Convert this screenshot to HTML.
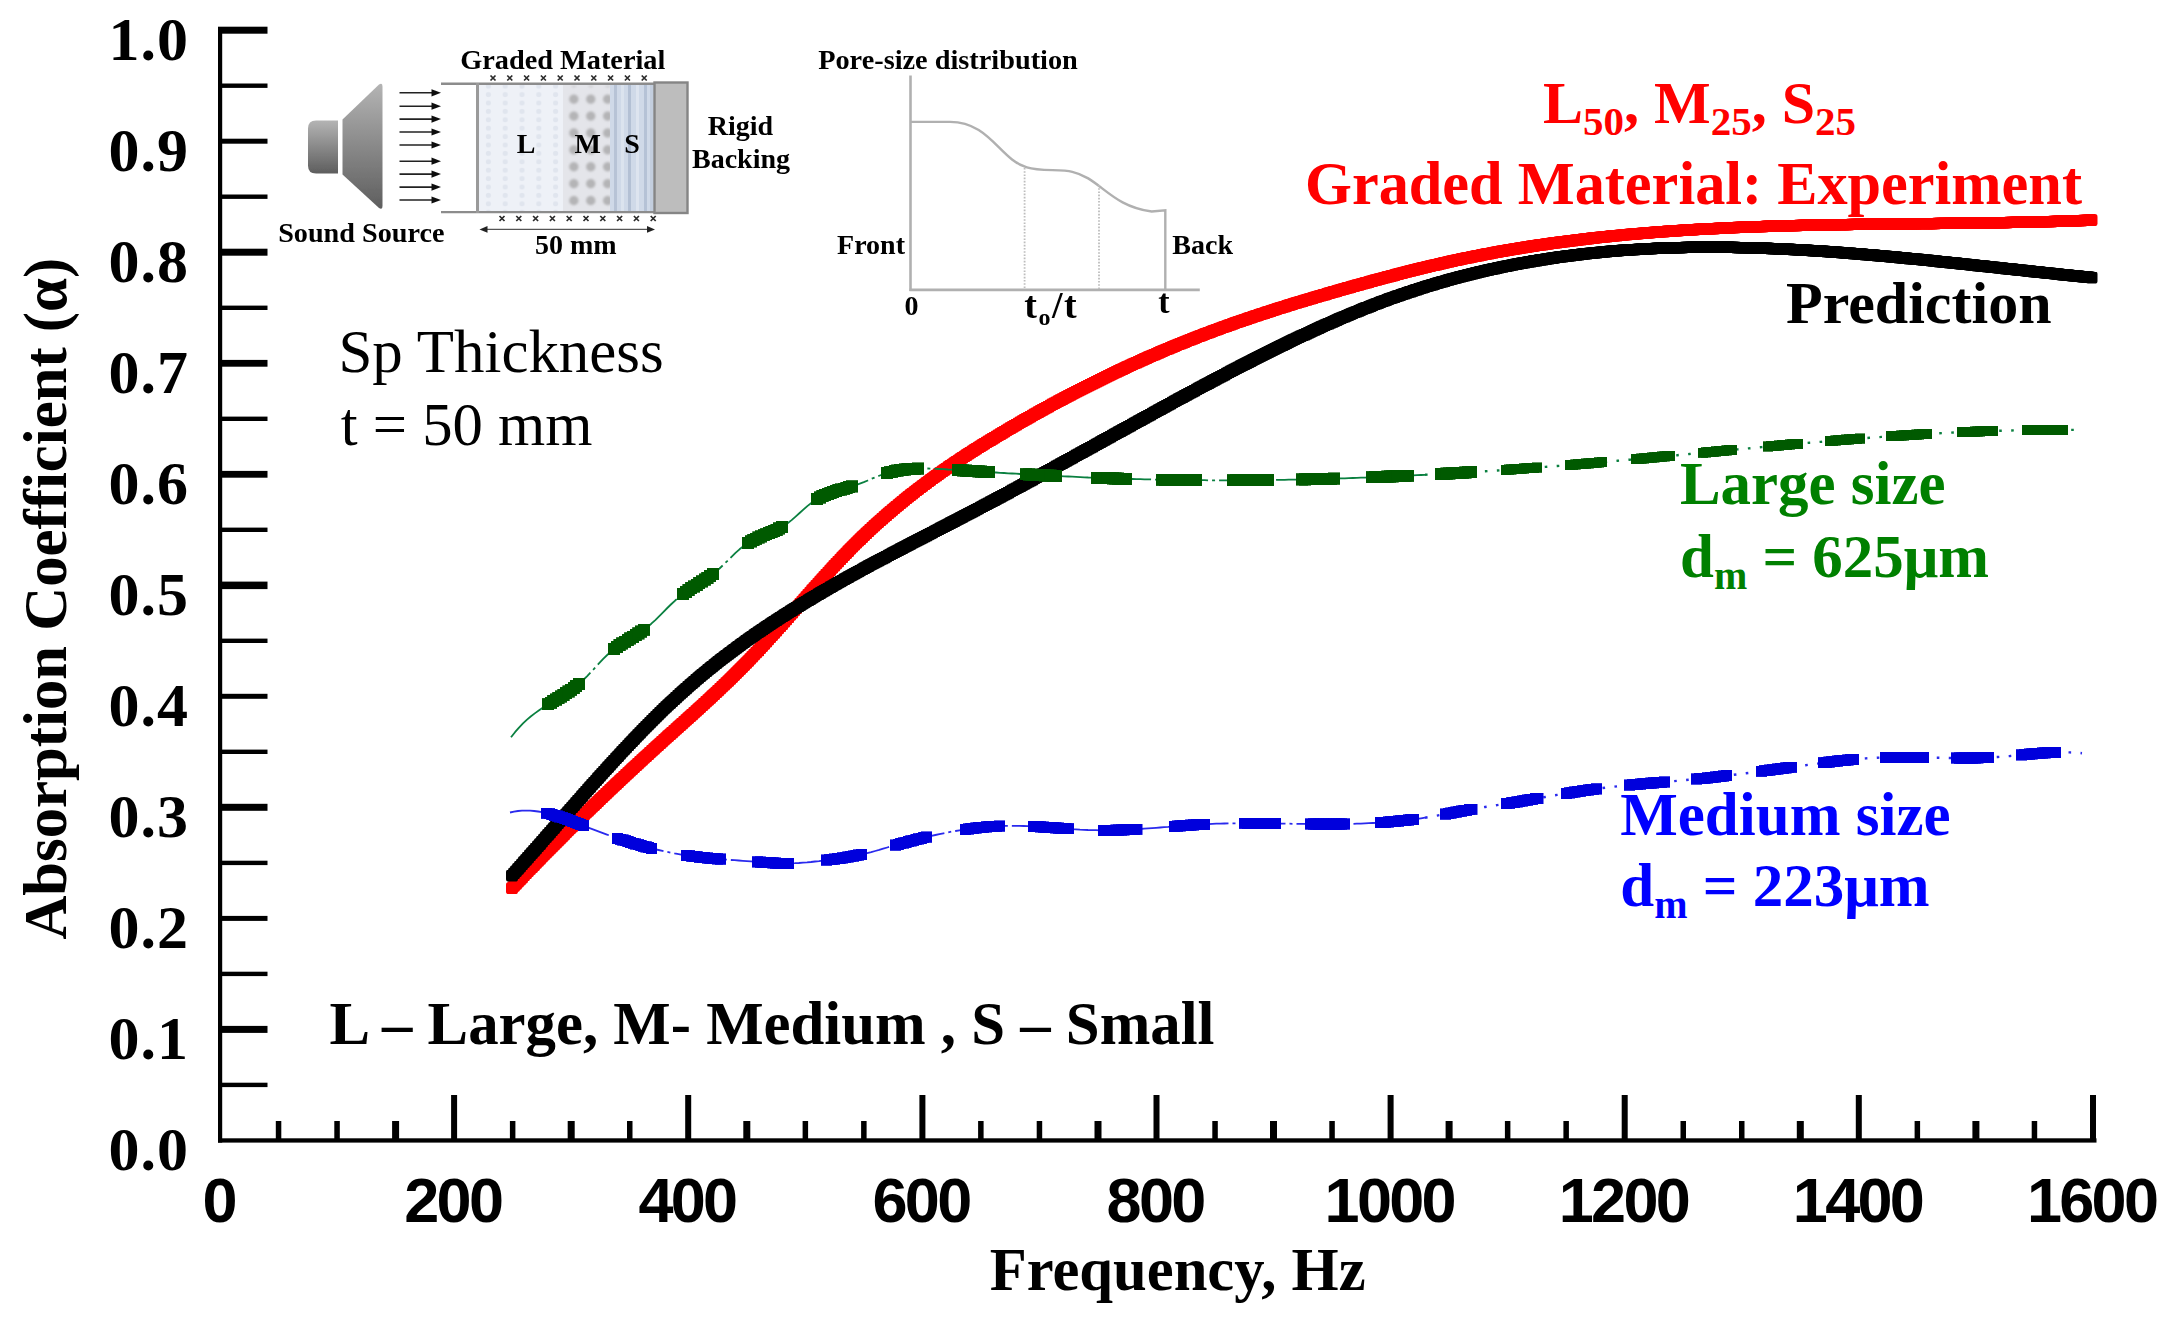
<!DOCTYPE html>
<html lang="en"><head><meta charset="utf-8"><title>Absorption coefficient of graded material</title>
<style>html,body{margin:0;padding:0;background:#fff;}svg{display:block;}text{font-family:"Liberation Serif","DejaVu Serif",serif;font-weight:bold;fill:#000;}.sans{font-family:"Liberation Sans","DejaVu Sans",sans-serif;font-weight:bold;}.reg{font-weight:normal;}</style></head><body>
<svg width="2168" height="1322" viewBox="0 0 2168 1322">
<defs><filter id="soft" x="-5%" y="-5%" width="110%" height="110%"><feGaussianBlur stdDeviation="0.7"/></filter><filter id="soft3" x="-5%" y="-5%" width="110%" height="110%"><feGaussianBlur stdDeviation="1.3"/></filter><filter id="soft2" x="-5%" y="-5%" width="110%" height="110%"><feGaussianBlur stdDeviation="0.45"/></filter><linearGradient id="spk" x1="0" y1="0" x2="0" y2="1"><stop offset="0" stop-color="#b4b4b4"/><stop offset="1" stop-color="#5e5e5e"/></linearGradient><pattern id="dotsL" x="480" y="82" width="16.8" height="8.4" patternUnits="userSpaceOnUse"><circle cx="8.4" cy="4.2" r="2.6" fill="#dde2ec"/></pattern><pattern id="dotsM" x="565.4" y="73.85" width="16.9" height="16.9" patternUnits="userSpaceOnUse"><circle cx="8.45" cy="8.45" r="4.7" fill="#b4b4b6"/></pattern><marker id="sqr" markerUnits="userSpaceOnUse" markerWidth="12" markerHeight="12" refX="6" refY="6"><rect width="12" height="12" rx="2.6" fill="#ff0000"/></marker><marker id="sqk" markerUnits="userSpaceOnUse" markerWidth="12" markerHeight="12" refX="6" refY="6"><rect width="12" height="12" rx="2.6" fill="#000000"/></marker><marker id="sqg" markerUnits="userSpaceOnUse" markerWidth="12.4" markerHeight="12.4" refX="6.2" refY="6.2"><rect width="12.4" height="12.4" fill="#005a00"/></marker><marker id="sqg2" markerUnits="userSpaceOnUse" markerWidth="10.4" markerHeight="10.4" refX="5.2" refY="5.2"><rect width="10.4" height="10.4" fill="#005a00"/></marker><marker id="sqb" markerUnits="userSpaceOnUse" markerWidth="11.4" markerHeight="11.4" refX="5.7" refY="5.7"><rect width="11.4" height="11.4" fill="#0000dc"/></marker></defs>
<rect x="0" y="0" width="2168" height="1322" fill="#ffffff"/>
<g fill="none" stroke-linejoin="round">
<path d="M512.0 888.0 L514.0 885.9 L516.0 883.8 L518.0 881.7 L520.0 879.6 L522.0 877.5 L524.0 875.4 L526.0 873.3 L528.0 871.2 L530.0 869.1 L532.0 867.0 L534.0 865.0 L536.0 862.9 L538.0 860.8 L540.0 858.8 L542.0 856.7 L544.0 854.7 L546.0 852.6 L548.0 850.6 L550.0 848.6 L552.0 846.5 L554.0 844.5 L556.0 842.5 L558.0 840.5 L560.0 838.5 L562.0 836.5 L564.0 834.5 L566.1 832.5 L568.1 830.5 L570.1 828.5 L572.1 826.6 L574.1 824.6 L576.1 822.6 L578.1 820.7 L580.1 818.7 L582.1 816.7 L584.1 814.8 L586.1 812.8 L588.1 810.9 L590.1 809.0 L592.1 807.0 L594.1 805.1 L596.1 803.2 L598.1 801.2 L600.1 799.3 L602.1 797.4 L604.1 795.5 L606.1 793.6 L608.1 791.7 L610.1 789.8 L612.1 787.9 L614.1 786.0 L616.1 784.1 L618.1 782.2 L620.1 780.3 L622.1 778.5 L624.1 776.6 L626.1 774.7 L628.1 772.9 L630.1 771.0 L632.1 769.1 L634.1 767.3 L636.1 765.4 L638.1 763.6 L640.1 761.7 L642.1 759.9 L644.1 758.0 L646.1 756.2 L648.1 754.4 L650.1 752.5 L652.1 750.7 L654.1 748.9 L656.1 747.0 L658.1 745.2 L660.1 743.4 L662.1 741.6 L664.1 739.8 L666.1 738.0 L668.1 736.1 L670.2 734.3 L672.2 732.5 L674.2 730.7 L676.2 728.9 L678.2 727.1 L680.2 725.3 L682.2 723.5 L684.2 721.7 L686.2 719.9 L688.2 718.1 L690.2 716.3 L692.2 714.5 L694.2 712.7 L696.2 710.9 L698.2 709.0 L700.2 707.2 L702.2 705.4 L704.2 703.5 L706.2 701.7 L708.2 699.9 L710.2 698.0 L712.2 696.1 L714.2 694.3 L716.2 692.4 L718.2 690.5 L720.2 688.6 L722.2 686.7 L724.2 684.8 L726.2 682.9 L728.2 681.0 L730.2 679.0 L732.2 677.1 L734.2 675.1 L736.2 673.1 L738.2 671.1 L740.2 669.1 L742.2 667.1 L744.2 665.1 L746.2 663.0 L748.2 661.0 L750.2 658.9 L752.2 656.8 L754.2 654.7 L756.2 652.6 L758.2 650.5 L760.2 648.3 L762.2 646.2 L764.2 644.0 L766.2 641.8 L768.2 639.6 L770.2 637.4 L772.2 635.2 L774.2 633.0 L776.3 630.8 L778.3 628.5 L780.3 626.3 L782.3 624.1 L784.3 621.8 L786.3 619.6 L788.3 617.3 L790.3 615.0 L792.3 612.8 L794.3 610.5 L796.3 608.2 L798.3 606.0 L800.3 603.7 L802.3 601.4 L804.3 599.2 L806.3 596.9 L808.3 594.7 L810.3 592.4 L812.3 590.1 L814.3 587.9 L816.3 585.7 L818.3 583.4 L820.3 581.2 L822.3 579.0 L824.3 576.8 L826.3 574.6 L828.3 572.4 L830.3 570.2 L832.3 568.0 L834.3 565.8 L836.3 563.7 L838.3 561.6 L840.3 559.4 L842.3 557.3 L844.3 555.2 L846.3 553.2 L848.3 551.1 L850.3 549.0 L852.3 547.0 L854.3 545.0 L856.3 543.0 L858.3 541.0 L860.3 539.1 L862.3 537.1 L864.3 535.2 L866.3 533.3 L868.3 531.4 L870.3 529.5 L872.3 527.7 L874.3 525.8 L876.3 524.0 L878.3 522.2 L880.3 520.4 L882.4 518.6 L884.4 516.8 L886.4 515.1 L888.4 513.3 L890.4 511.6 L892.4 509.9 L894.4 508.2 L896.4 506.5 L898.4 504.9 L900.4 503.2 L902.4 501.6 L904.4 499.9 L906.4 498.3 L908.4 496.7 L910.4 495.1 L912.4 493.6 L914.4 492.0 L916.4 490.4 L918.4 488.9 L920.4 487.4 L922.4 485.9 L924.4 484.4 L926.4 482.9 L928.4 481.4 L930.4 479.9 L932.4 478.4 L934.4 477.0 L936.4 475.6 L938.4 474.1 L940.4 472.7 L942.4 471.3 L944.4 469.9 L946.4 468.5 L948.4 467.1 L950.4 465.7 L952.4 464.4 L954.4 463.0 L956.4 461.7 L958.4 460.4 L960.4 459.0 L962.4 457.7 L964.4 456.4 L966.4 455.1 L968.4 453.8 L970.4 452.5 L972.4 451.2 L974.4 449.9 L976.4 448.7 L978.4 447.4 L980.4 446.2 L982.4 444.9 L984.4 443.7 L986.5 442.4 L988.5 441.2 L990.5 440.0 L992.5 438.8 L994.5 437.6 L996.5 436.4 L998.5 435.2 L1000.5 434.0 L1002.5 432.8 L1004.5 431.6 L1006.5 430.4 L1008.5 429.2 L1010.5 428.0 L1012.5 426.9 L1014.5 425.7 L1016.5 424.5 L1018.5 423.4 L1020.5 422.2 L1022.5 421.1 L1024.5 419.9 L1026.5 418.8 L1028.5 417.7 L1030.5 416.5 L1032.5 415.4 L1034.5 414.3 L1036.5 413.2 L1038.5 412.0 L1040.5 410.9 L1042.5 409.8 L1044.5 408.7 L1046.5 407.6 L1048.5 406.5 L1050.5 405.4 L1052.5 404.3 L1054.5 403.3 L1056.5 402.2 L1058.5 401.1 L1060.5 400.0 L1062.5 399.0 L1064.5 397.9 L1066.5 396.9 L1068.5 395.8 L1070.5 394.8 L1072.5 393.7 L1074.5 392.7 L1076.5 391.6 L1078.5 390.6 L1080.5 389.6 L1082.5 388.6 L1084.5 387.5 L1086.5 386.5 L1088.5 385.5 L1090.5 384.5 L1092.6 383.5 L1094.6 382.5 L1096.6 381.5 L1098.6 380.5 L1100.6 379.5 L1102.6 378.5 L1104.6 377.6 L1106.6 376.6 L1108.6 375.6 L1110.6 374.7 L1112.6 373.7 L1114.6 372.7 L1116.6 371.8 L1118.6 370.8 L1120.6 369.9 L1122.6 369.0 L1124.6 368.0 L1126.6 367.1 L1128.6 366.2 L1130.6 365.3 L1132.6 364.3 L1134.6 363.4 L1136.6 362.5 L1138.6 361.6 L1140.6 360.7 L1142.6 359.8 L1144.6 358.9 L1146.6 358.0 L1148.6 357.1 L1150.6 356.3 L1152.6 355.4 L1154.6 354.5 L1156.6 353.7 L1158.6 352.8 L1160.6 351.9 L1162.6 351.1 L1164.6 350.2 L1166.6 349.4 L1168.6 348.5 L1170.6 347.7 L1172.6 346.9 L1174.6 346.0 L1176.6 345.2 L1178.6 344.4 L1180.6 343.6 L1182.6 342.8 L1184.6 342.0 L1186.6 341.2 L1188.6 340.4 L1190.6 339.6 L1192.6 338.8 L1194.6 338.0 L1196.7 337.2 L1198.7 336.4 L1200.7 335.7 L1202.7 334.9 L1204.7 334.1 L1206.7 333.4 L1208.7 332.6 L1210.7 331.9 L1212.7 331.1 L1214.7 330.4 L1216.7 329.6 L1218.7 328.9 L1220.7 328.2 L1222.7 327.4 L1224.7 326.7 L1226.7 326.0 L1228.7 325.3 L1230.7 324.6 L1232.7 323.8 L1234.7 323.1 L1236.7 322.4 L1238.7 321.7 L1240.7 321.0 L1242.7 320.4 L1244.7 319.7 L1246.7 319.0 L1248.7 318.3 L1250.7 317.6 L1252.7 316.9 L1254.7 316.3 L1256.7 315.6 L1258.7 314.9 L1260.7 314.3 L1262.7 313.6 L1264.7 313.0 L1266.7 312.3 L1268.7 311.7 L1270.7 311.0 L1272.7 310.4 L1274.7 309.7 L1276.7 309.1 L1278.7 308.4 L1280.7 307.8 L1282.7 307.2 L1284.7 306.6 L1286.7 305.9 L1288.7 305.3 L1290.7 304.7 L1292.7 304.1 L1294.7 303.4 L1296.7 302.8 L1298.7 302.2 L1300.7 301.6 L1302.8 301.0 L1304.8 300.4 L1306.8 299.8 L1308.8 299.2 L1310.8 298.6 L1312.8 298.0 L1314.8 297.4 L1316.8 296.8 L1318.8 296.2 L1320.8 295.6 L1322.8 295.1 L1324.8 294.5 L1326.8 293.9 L1328.8 293.3 L1330.8 292.7 L1332.8 292.1 L1334.8 291.6 L1336.8 291.0 L1338.8 290.4 L1340.8 289.8 L1342.8 289.3 L1344.8 288.7 L1346.8 288.1 L1348.8 287.6 L1350.8 287.0 L1352.8 286.4 L1354.8 285.9 L1356.8 285.3 L1358.8 284.8 L1360.8 284.2 L1362.8 283.6 L1364.8 283.1 L1366.8 282.5 L1368.8 282.0 L1370.8 281.4 L1372.8 280.9 L1374.8 280.3 L1376.8 279.8 L1378.8 279.2 L1380.8 278.7 L1382.8 278.2 L1384.8 277.6 L1386.8 277.1 L1388.8 276.5 L1390.8 276.0 L1392.8 275.5 L1394.8 275.0 L1396.8 274.4 L1398.8 273.9 L1400.8 273.4 L1402.8 272.9 L1404.8 272.4 L1406.8 271.8 L1408.9 271.3 L1410.9 270.8 L1412.9 270.3 L1414.9 269.8 L1416.9 269.3 L1418.9 268.8 L1420.9 268.3 L1422.9 267.8 L1424.9 267.4 L1426.9 266.9 L1428.9 266.4 L1430.9 265.9 L1432.9 265.4 L1434.9 265.0 L1436.9 264.5 L1438.9 264.0 L1440.9 263.6 L1442.9 263.1 L1444.9 262.7 L1446.9 262.2 L1448.9 261.8 L1450.9 261.3 L1452.9 260.9 L1454.9 260.4 L1456.9 260.0 L1458.9 259.6 L1460.9 259.1 L1462.9 258.7 L1464.9 258.3 L1466.9 257.9 L1468.9 257.5 L1470.9 257.1 L1472.9 256.7 L1474.9 256.3 L1476.9 255.9 L1478.9 255.5 L1480.9 255.1 L1482.9 254.7 L1484.9 254.3 L1486.9 253.9 L1488.9 253.5 L1490.9 253.2 L1492.9 252.8 L1494.9 252.4 L1496.9 252.1 L1498.9 251.7 L1500.9 251.3 L1502.9 251.0 L1504.9 250.6 L1506.9 250.3 L1508.9 249.9 L1510.9 249.6 L1513.0 249.2 L1515.0 248.9 L1517.0 248.6 L1519.0 248.2 L1521.0 247.9 L1523.0 247.6 L1525.0 247.3 L1527.0 247.0 L1529.0 246.6 L1531.0 246.3 L1533.0 246.0 L1535.0 245.7 L1537.0 245.4 L1539.0 245.1 L1541.0 244.8 L1543.0 244.5 L1545.0 244.2 L1547.0 243.9 L1549.0 243.7 L1551.0 243.4 L1553.0 243.1 L1555.0 242.8 L1557.0 242.5 L1559.0 242.3 L1561.0 242.0 L1563.0 241.7 L1565.0 241.5 L1567.0 241.2 L1569.0 241.0 L1571.0 240.7 L1573.0 240.5 L1575.0 240.2 L1577.0 240.0 L1579.0 239.7 L1581.0 239.5 L1583.0 239.2 L1585.0 239.0 L1587.0 238.8 L1589.0 238.5 L1591.0 238.3 L1593.0 238.1 L1595.0 237.9 L1597.0 237.6 L1599.0 237.4 L1601.0 237.2 L1603.0 237.0 L1605.0 236.8 L1607.0 236.6 L1609.0 236.4 L1611.0 236.1 L1613.0 235.9 L1615.0 235.7 L1617.0 235.6 L1619.1 235.4 L1621.1 235.2 L1623.1 235.0 L1625.1 234.8 L1627.1 234.6 L1629.1 234.4 L1631.1 234.2 L1633.1 234.1 L1635.1 233.9 L1637.1 233.7 L1639.1 233.5 L1641.1 233.4 L1643.1 233.2 L1645.1 233.0 L1647.1 232.9 L1649.1 232.7 L1651.1 232.5 L1653.1 232.4 L1655.1 232.2 L1657.1 232.1 L1659.1 231.9 L1661.1 231.8 L1663.1 231.6 L1665.1 231.5 L1667.1 231.3 L1669.1 231.2 L1671.1 231.1 L1673.1 230.9 L1675.1 230.8 L1677.1 230.7 L1679.1 230.5 L1681.1 230.4 L1683.1 230.3 L1685.1 230.1 L1687.1 230.0 L1689.1 229.9 L1691.1 229.8 L1693.1 229.7 L1695.1 229.5 L1697.1 229.4 L1699.1 229.3 L1701.1 229.2 L1703.1 229.1 L1705.1 229.0 L1707.1 228.9 L1709.1 228.8 L1711.1 228.7 L1713.1 228.6 L1715.1 228.5 L1717.1 228.4 L1719.1 228.3 L1721.1 228.2 L1723.2 228.1 L1725.2 228.0 L1727.2 227.9 L1729.2 227.8 L1731.2 227.7 L1733.2 227.6 L1735.2 227.5 L1737.2 227.4 L1739.2 227.4 L1741.2 227.3 L1743.2 227.2 L1745.2 227.1 L1747.2 227.0 L1749.2 227.0 L1751.2 226.9 L1753.2 226.8 L1755.2 226.7 L1757.2 226.7 L1759.2 226.6 L1761.2 226.5 L1763.2 226.5 L1765.2 226.4 L1767.2 226.3 L1769.2 226.3 L1771.2 226.2 L1773.2 226.1 L1775.2 226.1 L1777.2 226.0 L1779.2 226.0 L1781.2 225.9 L1783.2 225.8 L1785.2 225.8 L1787.2 225.7 L1789.2 225.7 L1791.2 225.6 L1793.2 225.6 L1795.2 225.5 L1797.2 225.5 L1799.2 225.4 L1801.2 225.4 L1803.2 225.3 L1805.2 225.3 L1807.2 225.2 L1809.2 225.2 L1811.2 225.2 L1813.2 225.1 L1815.2 225.1 L1817.2 225.0 L1819.2 225.0 L1821.2 225.0 L1823.2 224.9 L1825.2 224.9 L1827.2 224.8 L1829.3 224.8 L1831.3 224.8 L1833.3 224.7 L1835.3 224.7 L1837.3 224.7 L1839.3 224.6 L1841.3 224.6 L1843.3 224.6 L1845.3 224.5 L1847.3 224.5 L1849.3 224.5 L1851.3 224.4 L1853.3 224.4 L1855.3 224.4 L1857.3 224.4 L1859.3 224.3 L1861.3 224.3 L1863.3 224.3 L1865.3 224.3 L1867.3 224.2 L1869.3 224.2 L1871.3 224.2 L1873.3 224.1 L1875.3 224.1 L1877.3 224.1 L1879.3 224.1 L1881.3 224.1 L1883.3 224.0 L1885.3 224.0 L1887.3 224.0 L1889.3 224.0 L1891.3 223.9 L1893.3 223.9 L1895.3 223.9 L1897.3 223.9 L1899.3 223.9 L1901.3 223.8 L1903.3 223.8 L1905.3 223.8 L1907.3 223.8 L1909.3 223.7 L1911.3 223.7 L1913.3 223.7 L1915.3 223.7 L1917.3 223.7 L1919.3 223.6 L1921.3 223.6 L1923.3 223.6 L1925.3 223.6 L1927.3 223.6 L1929.3 223.5 L1931.3 223.5 L1933.3 223.5 L1935.4 223.5 L1937.4 223.4 L1939.4 223.4 L1941.4 223.4 L1943.4 223.4 L1945.4 223.4 L1947.4 223.3 L1949.4 223.3 L1951.4 223.3 L1953.4 223.3 L1955.4 223.2 L1957.4 223.2 L1959.4 223.2 L1961.4 223.2 L1963.4 223.1 L1965.4 223.1 L1967.4 223.1 L1969.4 223.1 L1971.4 223.0 L1973.4 223.0 L1975.4 223.0 L1977.4 223.0 L1979.4 222.9 L1981.4 222.9 L1983.4 222.9 L1985.4 222.8 L1987.4 222.8 L1989.4 222.8 L1991.4 222.8 L1993.4 222.7 L1995.4 222.7 L1997.4 222.7 L1999.4 222.6 L2001.4 222.6 L2003.4 222.6 L2005.4 222.5 L2007.4 222.5 L2009.4 222.4 L2011.4 222.4 L2013.4 222.4 L2015.4 222.3 L2017.4 222.3 L2019.4 222.2 L2021.4 222.2 L2023.4 222.2 L2025.4 222.1 L2027.4 222.1 L2029.4 222.0 L2031.4 222.0 L2033.4 221.9 L2035.4 221.9 L2037.4 221.8 L2039.5 221.8 L2041.5 221.7 L2043.5 221.7 L2045.5 221.6 L2047.5 221.6 L2049.5 221.5 L2051.5 221.5 L2053.5 221.4 L2055.5 221.4 L2057.5 221.3 L2059.5 221.2 L2061.5 221.2 L2063.5 221.1 L2065.5 221.1 L2067.5 221.0 L2069.5 220.9 L2071.5 220.9 L2073.5 220.8 L2075.5 220.7 L2077.5 220.7 L2079.5 220.6 L2081.5 220.5 L2083.5 220.4 L2085.5 220.4 L2087.5 220.3 L2089.5 220.2 L2091.5 220.1" stroke="#ff0000" stroke-width="8.5" stroke-linecap="butt" marker-start="url(#sqr)" marker-mid="url(#sqr)" marker-end="url(#sqr)"/>
<path d="M512.0 875.6 L514.0 873.4 L516.0 871.2 L518.0 868.9 L520.0 866.7 L522.0 864.4 L524.0 862.1 L526.0 859.9 L528.0 857.6 L530.0 855.3 L532.0 853.1 L534.0 850.8 L536.0 848.5 L538.0 846.3 L540.0 844.0 L542.0 841.7 L544.0 839.4 L546.0 837.1 L548.0 834.8 L550.0 832.6 L552.0 830.3 L554.0 828.0 L556.0 825.7 L558.0 823.4 L560.0 821.1 L562.0 818.8 L564.0 816.6 L566.1 814.3 L568.1 812.0 L570.1 809.7 L572.1 807.4 L574.1 805.2 L576.1 802.9 L578.1 800.6 L580.1 798.4 L582.1 796.1 L584.1 793.8 L586.1 791.6 L588.1 789.3 L590.1 787.1 L592.1 784.8 L594.1 782.6 L596.1 780.4 L598.1 778.1 L600.1 775.9 L602.1 773.7 L604.1 771.5 L606.1 769.3 L608.1 767.1 L610.1 764.9 L612.1 762.7 L614.1 760.5 L616.1 758.3 L618.1 756.2 L620.1 754.0 L622.1 751.8 L624.1 749.7 L626.1 747.6 L628.1 745.4 L630.1 743.3 L632.1 741.2 L634.1 739.1 L636.1 737.0 L638.1 734.9 L640.1 732.9 L642.1 730.8 L644.1 728.7 L646.1 726.7 L648.1 724.7 L650.1 722.7 L652.1 720.6 L654.1 718.6 L656.1 716.7 L658.1 714.7 L660.1 712.7 L662.1 710.8 L664.1 708.8 L666.1 706.9 L668.1 705.0 L670.2 703.1 L672.2 701.2 L674.2 699.4 L676.2 697.5 L678.2 695.7 L680.2 693.8 L682.2 692.0 L684.2 690.2 L686.2 688.5 L688.2 686.7 L690.2 684.9 L692.2 683.2 L694.2 681.5 L696.2 679.7 L698.2 678.0 L700.2 676.3 L702.2 674.7 L704.2 673.0 L706.2 671.4 L708.2 669.7 L710.2 668.1 L712.2 666.5 L714.2 664.9 L716.2 663.3 L718.2 661.7 L720.2 660.1 L722.2 658.6 L724.2 657.0 L726.2 655.5 L728.2 654.0 L730.2 652.5 L732.2 651.0 L734.2 649.5 L736.2 648.0 L738.2 646.5 L740.2 645.1 L742.2 643.6 L744.2 642.2 L746.2 640.7 L748.2 639.3 L750.2 637.9 L752.2 636.5 L754.2 635.1 L756.2 633.7 L758.2 632.3 L760.2 631.0 L762.2 629.6 L764.2 628.3 L766.2 626.9 L768.2 625.6 L770.2 624.2 L772.2 622.9 L774.2 621.6 L776.3 620.3 L778.3 619.0 L780.3 617.7 L782.3 616.4 L784.3 615.1 L786.3 613.9 L788.3 612.6 L790.3 611.3 L792.3 610.1 L794.3 608.8 L796.3 607.6 L798.3 606.4 L800.3 605.1 L802.3 603.9 L804.3 602.7 L806.3 601.5 L808.3 600.3 L810.3 599.1 L812.3 597.9 L814.3 596.7 L816.3 595.5 L818.3 594.3 L820.3 593.1 L822.3 591.9 L824.3 590.8 L826.3 589.6 L828.3 588.5 L830.3 587.3 L832.3 586.2 L834.3 585.0 L836.3 583.9 L838.3 582.7 L840.3 581.6 L842.3 580.5 L844.3 579.3 L846.3 578.2 L848.3 577.1 L850.3 576.0 L852.3 574.9 L854.3 573.8 L856.3 572.7 L858.3 571.6 L860.3 570.5 L862.3 569.4 L864.3 568.3 L866.3 567.2 L868.3 566.1 L870.3 565.0 L872.3 564.0 L874.3 562.9 L876.3 561.8 L878.3 560.8 L880.3 559.7 L882.4 558.6 L884.4 557.6 L886.4 556.5 L888.4 555.4 L890.4 554.4 L892.4 553.3 L894.4 552.3 L896.4 551.2 L898.4 550.2 L900.4 549.1 L902.4 548.1 L904.4 547.0 L906.4 546.0 L908.4 544.9 L910.4 543.9 L912.4 542.8 L914.4 541.8 L916.4 540.8 L918.4 539.7 L920.4 538.7 L922.4 537.7 L924.4 536.6 L926.4 535.6 L928.4 534.5 L930.4 533.5 L932.4 532.5 L934.4 531.4 L936.4 530.4 L938.4 529.4 L940.4 528.3 L942.4 527.3 L944.4 526.3 L946.4 525.2 L948.4 524.2 L950.4 523.1 L952.4 522.1 L954.4 521.1 L956.4 520.0 L958.4 519.0 L960.4 517.9 L962.4 516.9 L964.4 515.8 L966.4 514.8 L968.4 513.7 L970.4 512.7 L972.4 511.7 L974.4 510.6 L976.4 509.5 L978.4 508.5 L980.4 507.4 L982.4 506.4 L984.4 505.3 L986.5 504.3 L988.5 503.2 L990.5 502.1 L992.5 501.1 L994.5 500.0 L996.5 498.9 L998.5 497.8 L1000.5 496.8 L1002.5 495.7 L1004.5 494.6 L1006.5 493.6 L1008.5 492.5 L1010.5 491.4 L1012.5 490.3 L1014.5 489.2 L1016.5 488.2 L1018.5 487.1 L1020.5 486.0 L1022.5 484.9 L1024.5 483.8 L1026.5 482.7 L1028.5 481.6 L1030.5 480.6 L1032.5 479.5 L1034.5 478.4 L1036.5 477.3 L1038.5 476.2 L1040.5 475.1 L1042.5 474.0 L1044.5 472.9 L1046.5 471.8 L1048.5 470.7 L1050.5 469.6 L1052.5 468.5 L1054.5 467.4 L1056.5 466.3 L1058.5 465.2 L1060.5 464.1 L1062.5 463.0 L1064.5 461.9 L1066.5 460.8 L1068.5 459.7 L1070.5 458.6 L1072.5 457.5 L1074.5 456.4 L1076.5 455.3 L1078.5 454.2 L1080.5 453.1 L1082.5 452.0 L1084.5 450.9 L1086.5 449.8 L1088.5 448.7 L1090.5 447.6 L1092.6 446.5 L1094.6 445.4 L1096.6 444.3 L1098.6 443.2 L1100.6 442.0 L1102.6 440.9 L1104.6 439.8 L1106.6 438.7 L1108.6 437.6 L1110.6 436.5 L1112.6 435.4 L1114.6 434.3 L1116.6 433.2 L1118.6 432.1 L1120.6 431.0 L1122.6 429.9 L1124.6 428.8 L1126.6 427.7 L1128.6 426.6 L1130.6 425.5 L1132.6 424.4 L1134.6 423.3 L1136.6 422.2 L1138.6 421.1 L1140.6 420.0 L1142.6 418.9 L1144.6 417.8 L1146.6 416.6 L1148.6 415.6 L1150.6 414.5 L1152.6 413.4 L1154.6 412.3 L1156.6 411.2 L1158.6 410.1 L1160.6 409.0 L1162.6 407.9 L1164.6 406.8 L1166.6 405.7 L1168.6 404.6 L1170.6 403.5 L1172.6 402.4 L1174.6 401.3 L1176.6 400.2 L1178.6 399.1 L1180.6 398.1 L1182.6 397.0 L1184.6 395.9 L1186.6 394.8 L1188.6 393.7 L1190.6 392.6 L1192.6 391.6 L1194.6 390.5 L1196.7 389.4 L1198.7 388.3 L1200.7 387.2 L1202.7 386.2 L1204.7 385.1 L1206.7 384.0 L1208.7 383.0 L1210.7 381.9 L1212.7 380.8 L1214.7 379.8 L1216.7 378.7 L1218.7 377.6 L1220.7 376.6 L1222.7 375.5 L1224.7 374.5 L1226.7 373.4 L1228.7 372.4 L1230.7 371.3 L1232.7 370.3 L1234.7 369.2 L1236.7 368.2 L1238.7 367.2 L1240.7 366.1 L1242.7 365.1 L1244.7 364.0 L1246.7 363.0 L1248.7 362.0 L1250.7 361.0 L1252.7 359.9 L1254.7 358.9 L1256.7 357.9 L1258.7 356.9 L1260.7 355.9 L1262.7 354.9 L1264.7 353.9 L1266.7 352.9 L1268.7 351.9 L1270.7 350.9 L1272.7 349.9 L1274.7 348.9 L1276.7 347.9 L1278.7 346.9 L1280.7 345.9 L1282.7 345.0 L1284.7 344.0 L1286.7 343.0 L1288.7 342.1 L1290.7 341.1 L1292.7 340.1 L1294.7 339.2 L1296.7 338.2 L1298.7 337.3 L1300.7 336.3 L1302.8 335.4 L1304.8 334.5 L1306.8 333.5 L1308.8 332.6 L1310.8 331.7 L1312.8 330.7 L1314.8 329.8 L1316.8 328.9 L1318.8 328.0 L1320.8 327.1 L1322.8 326.2 L1324.8 325.3 L1326.8 324.4 L1328.8 323.5 L1330.8 322.6 L1332.8 321.8 L1334.8 320.9 L1336.8 320.0 L1338.8 319.1 L1340.8 318.3 L1342.8 317.4 L1344.8 316.6 L1346.8 315.7 L1348.8 314.9 L1350.8 314.1 L1352.8 313.2 L1354.8 312.4 L1356.8 311.6 L1358.8 310.8 L1360.8 309.9 L1362.8 309.1 L1364.8 308.3 L1366.8 307.5 L1368.8 306.8 L1370.8 306.0 L1372.8 305.2 L1374.8 304.4 L1376.8 303.6 L1378.8 302.9 L1380.8 302.1 L1382.8 301.4 L1384.8 300.6 L1386.8 299.9 L1388.8 299.1 L1390.8 298.4 L1392.8 297.7 L1394.8 297.0 L1396.8 296.3 L1398.8 295.6 L1400.8 294.9 L1402.8 294.2 L1404.8 293.5 L1406.8 292.8 L1408.9 292.1 L1410.9 291.5 L1412.9 290.8 L1414.9 290.1 L1416.9 289.5 L1418.9 288.8 L1420.9 288.2 L1422.9 287.6 L1424.9 286.9 L1426.9 286.3 L1428.9 285.7 L1430.9 285.1 L1432.9 284.5 L1434.9 283.9 L1436.9 283.3 L1438.9 282.7 L1440.9 282.1 L1442.9 281.5 L1444.9 281.0 L1446.9 280.4 L1448.9 279.8 L1450.9 279.3 L1452.9 278.7 L1454.9 278.2 L1456.9 277.7 L1458.9 277.1 L1460.9 276.6 L1462.9 276.1 L1464.9 275.6 L1466.9 275.1 L1468.9 274.6 L1470.9 274.1 L1472.9 273.6 L1474.9 273.1 L1476.9 272.6 L1478.9 272.1 L1480.9 271.6 L1482.9 271.2 L1484.9 270.7 L1486.9 270.3 L1488.9 269.8 L1490.9 269.4 L1492.9 268.9 L1494.9 268.5 L1496.9 268.0 L1498.9 267.6 L1500.9 267.2 L1502.9 266.8 L1504.9 266.4 L1506.9 266.0 L1508.9 265.6 L1510.9 265.2 L1513.0 264.8 L1515.0 264.4 L1517.0 264.0 L1519.0 263.6 L1521.0 263.3 L1523.0 262.9 L1525.0 262.5 L1527.0 262.2 L1529.0 261.8 L1531.0 261.5 L1533.0 261.1 L1535.0 260.8 L1537.0 260.5 L1539.0 260.1 L1541.0 259.8 L1543.0 259.5 L1545.0 259.2 L1547.0 258.9 L1549.0 258.6 L1551.0 258.3 L1553.0 258.0 L1555.0 257.7 L1557.0 257.4 L1559.0 257.1 L1561.0 256.8 L1563.0 256.5 L1565.0 256.3 L1567.0 256.0 L1569.0 255.8 L1571.0 255.5 L1573.0 255.2 L1575.0 255.0 L1577.0 254.8 L1579.0 254.5 L1581.0 254.3 L1583.0 254.0 L1585.0 253.8 L1587.0 253.6 L1589.0 253.4 L1591.0 253.2 L1593.0 253.0 L1595.0 252.8 L1597.0 252.6 L1599.0 252.4 L1601.0 252.2 L1603.0 252.0 L1605.0 251.8 L1607.0 251.6 L1609.0 251.4 L1611.0 251.3 L1613.0 251.1 L1615.0 250.9 L1617.0 250.8 L1619.1 250.6 L1621.1 250.4 L1623.1 250.3 L1625.1 250.2 L1627.1 250.0 L1629.1 249.9 L1631.1 249.7 L1633.1 249.6 L1635.1 249.5 L1637.1 249.4 L1639.1 249.2 L1641.1 249.1 L1643.1 249.0 L1645.1 248.9 L1647.1 248.8 L1649.1 248.7 L1651.1 248.6 L1653.1 248.5 L1655.1 248.4 L1657.1 248.3 L1659.1 248.2 L1661.1 248.2 L1663.1 248.1 L1665.1 248.0 L1667.1 247.9 L1669.1 247.9 L1671.1 247.8 L1673.1 247.7 L1675.1 247.7 L1677.1 247.6 L1679.1 247.6 L1681.1 247.5 L1683.1 247.5 L1685.1 247.4 L1687.1 247.4 L1689.1 247.4 L1691.1 247.3 L1693.1 247.3 L1695.1 247.3 L1697.1 247.3 L1699.1 247.3 L1701.1 247.2 L1703.1 247.2 L1705.1 247.2 L1707.1 247.2 L1709.1 247.2 L1711.1 247.2 L1713.1 247.2 L1715.1 247.2 L1717.1 247.2 L1719.1 247.2 L1721.1 247.2 L1723.2 247.3 L1725.2 247.3 L1727.2 247.3 L1729.2 247.3 L1731.2 247.4 L1733.2 247.4 L1735.2 247.4 L1737.2 247.5 L1739.2 247.5 L1741.2 247.5 L1743.2 247.6 L1745.2 247.6 L1747.2 247.7 L1749.2 247.7 L1751.2 247.8 L1753.2 247.8 L1755.2 247.9 L1757.2 248.0 L1759.2 248.0 L1761.2 248.1 L1763.2 248.2 L1765.2 248.2 L1767.2 248.3 L1769.2 248.4 L1771.2 248.5 L1773.2 248.5 L1775.2 248.6 L1777.2 248.7 L1779.2 248.8 L1781.2 248.9 L1783.2 249.0 L1785.2 249.1 L1787.2 249.2 L1789.2 249.3 L1791.2 249.4 L1793.2 249.5 L1795.2 249.6 L1797.2 249.7 L1799.2 249.8 L1801.2 249.9 L1803.2 250.0 L1805.2 250.1 L1807.2 250.3 L1809.2 250.4 L1811.2 250.5 L1813.2 250.6 L1815.2 250.8 L1817.2 250.9 L1819.2 251.0 L1821.2 251.1 L1823.2 251.3 L1825.2 251.4 L1827.2 251.5 L1829.3 251.7 L1831.3 251.8 L1833.3 252.0 L1835.3 252.1 L1837.3 252.3 L1839.3 252.4 L1841.3 252.6 L1843.3 252.7 L1845.3 252.9 L1847.3 253.0 L1849.3 253.2 L1851.3 253.3 L1853.3 253.5 L1855.3 253.6 L1857.3 253.8 L1859.3 254.0 L1861.3 254.1 L1863.3 254.3 L1865.3 254.5 L1867.3 254.6 L1869.3 254.8 L1871.3 255.0 L1873.3 255.1 L1875.3 255.3 L1877.3 255.5 L1879.3 255.7 L1881.3 255.8 L1883.3 256.0 L1885.3 256.2 L1887.3 256.4 L1889.3 256.6 L1891.3 256.8 L1893.3 256.9 L1895.3 257.1 L1897.3 257.3 L1899.3 257.5 L1901.3 257.7 L1903.3 257.9 L1905.3 258.1 L1907.3 258.3 L1909.3 258.5 L1911.3 258.6 L1913.3 258.8 L1915.3 259.0 L1917.3 259.2 L1919.3 259.4 L1921.3 259.6 L1923.3 259.8 L1925.3 260.0 L1927.3 260.2 L1929.3 260.4 L1931.3 260.6 L1933.3 260.8 L1935.4 261.0 L1937.4 261.2 L1939.4 261.5 L1941.4 261.7 L1943.4 261.9 L1945.4 262.1 L1947.4 262.3 L1949.4 262.5 L1951.4 262.7 L1953.4 262.9 L1955.4 263.1 L1957.4 263.3 L1959.4 263.5 L1961.4 263.8 L1963.4 264.0 L1965.4 264.2 L1967.4 264.4 L1969.4 264.6 L1971.4 264.8 L1973.4 265.0 L1975.4 265.2 L1977.4 265.5 L1979.4 265.7 L1981.4 265.9 L1983.4 266.1 L1985.4 266.3 L1987.4 266.5 L1989.4 266.7 L1991.4 267.0 L1993.4 267.2 L1995.4 267.4 L1997.4 267.6 L1999.4 267.8 L2001.4 268.0 L2003.4 268.3 L2005.4 268.5 L2007.4 268.7 L2009.4 268.9 L2011.4 269.1 L2013.4 269.3 L2015.4 269.6 L2017.4 269.8 L2019.4 270.0 L2021.4 270.2 L2023.4 270.4 L2025.4 270.6 L2027.4 270.9 L2029.4 271.1 L2031.4 271.3 L2033.4 271.5 L2035.4 271.7 L2037.4 271.9 L2039.5 272.1 L2041.5 272.4 L2043.5 272.6 L2045.5 272.8 L2047.5 273.0 L2049.5 273.2 L2051.5 273.4 L2053.5 273.6 L2055.5 273.8 L2057.5 274.0 L2059.5 274.3 L2061.5 274.5 L2063.5 274.7 L2065.5 274.9 L2067.5 275.1 L2069.5 275.3 L2071.5 275.5 L2073.5 275.7 L2075.5 275.9 L2077.5 276.1 L2079.5 276.3 L2081.5 276.5 L2083.5 276.7 L2085.5 276.9 L2087.5 277.1 L2089.5 277.3 L2091.5 277.5" stroke="#000000" stroke-width="8.5" stroke-linecap="butt" marker-start="url(#sqk)" marker-mid="url(#sqk)" marker-end="url(#sqk)"/>
<path d="M511.0 737.3 L515.0 732.2 L519.0 727.6 L523.0 723.4 L527.0 719.6 L531.0 716.2 L535.1 713.1 L539.1 710.2 L543.1 707.5 L547.1 704.9 L551.1 702.5 L555.1 700.1 L559.1 697.6 L563.1 695.1 L567.1 692.5 L571.1 689.8 L575.1 686.8 L579.1 683.5 L583.2 680.0 L587.2 676.1 L591.2 671.9 L595.2 667.5 L599.2 663.1 L603.2 658.9 L607.2 655.0 L611.2 651.4 L615.2 648.3 L619.2 645.4 L623.2 642.8 L627.3 640.3 L631.3 637.9 L635.3 635.4 L639.3 632.8 L643.3 630.1 L647.3 627.1 L651.3 623.7 L655.3 620.1 L659.3 616.1 L663.3 612.1 L667.3 608.0 L671.4 604.0 L675.4 600.3 L679.4 596.8 L683.4 593.7 L687.4 590.8 L691.4 588.1 L695.4 585.6 L699.4 583.0 L703.4 580.5 L707.4 577.8 L711.4 575.0 L715.4 571.9 L719.5 568.5 L723.5 564.7 L727.5 560.8 L731.5 556.8 L735.5 552.9 L739.5 549.3 L743.5 546.1 L747.5 543.3 L751.5 541.0 L755.5 538.9 L759.5 537.1 L763.6 535.4 L767.6 533.7 L771.6 532.1 L775.6 530.3 L779.6 528.2 L783.6 525.9 L787.6 523.2 L791.6 520.1 L795.6 516.6 L799.6 513.0 L803.6 509.4 L807.6 505.9 L811.7 502.7 L815.7 500.0 L819.7 497.6 L823.7 495.6 L827.7 493.9 L831.7 492.4 L835.7 491.1 L839.7 489.9 L843.7 488.7 L847.7 487.6 L851.7 486.4 L855.8 485.2 L859.8 483.7 L863.8 482.2 L867.8 480.5 L871.8 478.7 L875.8 477.1 L879.8 475.5 L883.8 474.1 L887.8 472.8 L891.8 471.8 L895.8 470.9 L899.9 470.2 L903.9 469.6 L907.9 469.2 L911.9 468.9 L915.9 468.6 L919.9 468.5 L923.9 468.5 L927.9 468.5 L931.9 468.6 L935.9 468.8 L939.9 469.0 L943.9 469.2 L948.0 469.5 L952.0 469.7 L956.0 470.0 L960.0 470.3 L964.0 470.5 L968.0 470.8 L972.0 471.0 L976.0 471.3 L980.0 471.5 L984.0 471.8 L988.0 472.0 L992.1 472.3 L996.1 472.5 L1000.1 472.8 L1004.1 473.0 L1008.1 473.3 L1012.1 473.5 L1016.1 473.7 L1020.1 474.0 L1024.1 474.2 L1028.1 474.4 L1032.1 474.6 L1036.1 474.9 L1040.2 475.1 L1044.2 475.3 L1048.2 475.5 L1052.2 475.7 L1056.2 475.9 L1060.2 476.1 L1064.2 476.3 L1068.2 476.5 L1072.2 476.7 L1076.2 476.9 L1080.2 477.1 L1084.3 477.3 L1088.3 477.5 L1092.3 477.6 L1096.3 477.8 L1100.3 477.9 L1104.3 478.1 L1108.3 478.2 L1112.3 478.4 L1116.3 478.5 L1120.3 478.7 L1124.3 478.8 L1128.4 478.9 L1132.4 479.0 L1136.4 479.1 L1140.4 479.2 L1144.4 479.3 L1148.4 479.4 L1152.4 479.5 L1156.4 479.6 L1160.4 479.7 L1164.4 479.8 L1168.4 479.8 L1172.4 479.9 L1176.5 480.0 L1180.5 480.0 L1184.5 480.1 L1188.5 480.1 L1192.5 480.1 L1196.5 480.2 L1200.5 480.2 L1204.5 480.2 L1208.5 480.3 L1212.5 480.3 L1216.5 480.3 L1220.6 480.3 L1224.6 480.3 L1228.6 480.3 L1232.6 480.3 L1236.6 480.3 L1240.6 480.3 L1244.6 480.2 L1248.6 480.2 L1252.6 480.2 L1256.6 480.1 L1260.6 480.1 L1264.6 480.1 L1268.7 480.0 L1272.7 480.0 L1276.7 479.9 L1280.7 479.8 L1284.7 479.8 L1288.7 479.7 L1292.7 479.6 L1296.7 479.6 L1300.7 479.5 L1304.7 479.4 L1308.7 479.3 L1312.8 479.2 L1316.8 479.1 L1320.8 479.0 L1324.8 478.9 L1328.8 478.8 L1332.8 478.6 L1336.8 478.5 L1340.8 478.4 L1344.8 478.3 L1348.8 478.1 L1352.8 478.0 L1356.9 477.9 L1360.9 477.7 L1364.9 477.6 L1368.9 477.4 L1372.9 477.2 L1376.9 477.1 L1380.9 476.9 L1384.9 476.7 L1388.9 476.6 L1392.9 476.4 L1396.9 476.2 L1400.9 476.0 L1405.0 475.8 L1409.0 475.6 L1413.0 475.4 L1417.0 475.2 L1421.0 475.0 L1425.0 474.8" stroke="#0a8040" stroke-width="1.8" stroke-dasharray="46 4 3 4"/>
<path d="M1425.0 474.8 L1429.0 474.6 L1433.0 474.4 L1437.0 474.2 L1441.0 474.0 L1445.0 473.7 L1449.0 473.5 L1453.0 473.3 L1457.0 473.0 L1461.1 472.8 L1465.1 472.5 L1469.1 472.3 L1473.1 472.0 L1477.1 471.8 L1481.1 471.5 L1485.1 471.3 L1489.1 471.0 L1493.1 470.7 L1497.1 470.5 L1501.1 470.2 L1505.1 469.9 L1509.1 469.6 L1513.1 469.3 L1517.1 469.0 L1521.1 468.8 L1525.2 468.5 L1529.2 468.2 L1533.2 467.9 L1537.2 467.6 L1541.2 467.2 L1545.2 466.9 L1549.2 466.6 L1553.2 466.3 L1557.2 466.0 L1561.2 465.7 L1565.2 465.3 L1569.2 465.0 L1573.2 464.7 L1577.2 464.3 L1581.2 464.0 L1585.2 463.6 L1589.2 463.3 L1593.3 463.0 L1597.3 462.6 L1601.3 462.3 L1605.3 461.9 L1609.3 461.5 L1613.3 461.2 L1617.3 460.8 L1621.3 460.5 L1625.3 460.1 L1629.3 459.7 L1633.3 459.4 L1637.3 459.0 L1641.3 458.6 L1645.3 458.2 L1649.3 457.9 L1653.3 457.5 L1657.4 457.1 L1661.4 456.7 L1665.4 456.3 L1669.4 456.0 L1673.4 455.6 L1677.4 455.2 L1681.4 454.8 L1685.4 454.4 L1689.4 454.0 L1693.4 453.6 L1697.4 453.3 L1701.4 452.9 L1705.4 452.5 L1709.4 452.1 L1713.4 451.7 L1717.4 451.3 L1721.5 450.9 L1725.5 450.6 L1729.5 450.2 L1733.5 449.8 L1737.5 449.4 L1741.5 449.0 L1745.5 448.6 L1749.5 448.3 L1753.5 447.9 L1757.5 447.5 L1761.5 447.1 L1765.5 446.7 L1769.5 446.4 L1773.5 446.0 L1777.5 445.6 L1781.5 445.3 L1785.5 444.9 L1789.6 444.5 L1793.6 444.2 L1797.6 443.8 L1801.6 443.4 L1805.6 443.1 L1809.6 442.7 L1813.6 442.4 L1817.6 442.0 L1821.6 441.7 L1825.6 441.3 L1829.6 441.0 L1833.6 440.7 L1837.6 440.3 L1841.6 440.0 L1845.6 439.7 L1849.6 439.4 L1853.7 439.0 L1857.7 438.7 L1861.7 438.4 L1865.7 438.1 L1869.7 437.8 L1873.7 437.5 L1877.7 437.2 L1881.7 436.9 L1885.7 436.6 L1889.7 436.3 L1893.7 436.1 L1897.7 435.8 L1901.7 435.5 L1905.7 435.3 L1909.7 435.0 L1913.7 434.7 L1917.8 434.5 L1921.8 434.3 L1925.8 434.0 L1929.8 433.8 L1933.8 433.6 L1937.8 433.3 L1941.8 433.1 L1945.8 432.9 L1949.8 432.7 L1953.8 432.5 L1957.8 432.3 L1961.8 432.1 L1965.8 432.0 L1969.8 431.8 L1973.8 431.6 L1977.8 431.5 L1981.8 431.3 L1985.9 431.2 L1989.9 431.0 L1993.9 430.9 L1997.9 430.8 L2001.9 430.7 L2005.9 430.6 L2009.9 430.5 L2013.9 430.4 L2017.9 430.3 L2021.9 430.2 L2025.9 430.1 L2029.9 430.1 L2033.9 430.0 L2037.9 430.0 L2041.9 429.9 L2045.9 429.9 L2050.0 429.9 L2054.0 429.9 L2058.0 429.9 L2062.0 429.9 L2066.0 429.9 L2070.0 429.9 L2074.0 429.9 L2078.0 430.0 L2082.0 430.0" stroke="#0a8040" stroke-width="2.4" stroke-dasharray="2.6 9.4"/>
<path d="M548.2 704.3 L550.8 702.7 L553.3 701.1 L555.9 699.6 L558.4 698.1 L561.0 696.5 L563.5 694.9 L566.0 693.2 L568.6 691.5 L571.1 689.7 L573.7 687.9 L576.2 685.9 L578.8 683.8" stroke="#005a00" stroke-width="8" marker-start="url(#sqg)" marker-mid="url(#sqg)" marker-end="url(#sqg)"/>
<path d="M614.2 649.1 L616.9 647.1 L619.6 645.2 L622.3 643.4 L625.0 641.7 L627.7 640.1 L630.3 638.4 L633.0 636.8 L635.7 635.1 L638.4 633.4 L641.1 631.6 L643.8 629.7" stroke="#005a00" stroke-width="8" marker-start="url(#sqg)" marker-mid="url(#sqg)" marker-end="url(#sqg)"/>
<path d="M683.2 593.8 L685.9 591.9 L688.6 590.0 L691.3 588.2 L694.0 586.5 L696.7 584.8 L699.3 583.1 L702.0 581.4 L704.7 579.6 L707.4 577.8 L710.1 575.9 L712.8 573.9" stroke="#005a00" stroke-width="8" marker-start="url(#sqg)" marker-mid="url(#sqg)" marker-end="url(#sqg)"/>
<path d="M748.2 542.9 L750.8 541.4 L753.4 540.0 L756.0 538.7 L758.5 537.5 L761.1 536.4 L763.7 535.3 L766.3 534.3 L768.9 533.2 L771.5 532.1 L774.0 531.0 L776.6 529.8 L779.2 528.4 L781.8 527.0" stroke="#005a00" stroke-width="8" marker-start="url(#sqg)" marker-mid="url(#sqg)" marker-end="url(#sqg)"/>
<path d="M817.2 499.0 L819.9 497.5 L822.5 496.2 L825.2 495.0 L827.8 493.8 L830.5 492.8 L833.2 491.9 L835.8 491.1 L838.5 490.2 L841.2 489.5 L843.8 488.7 L846.5 488.0 L849.1 487.2 L851.8 486.4" stroke="#005a00" stroke-width="8" marker-start="url(#sqg)" marker-mid="url(#sqg)" marker-end="url(#sqg)"/>
<path d="M887.2 473.0 L889.8 472.3 L892.3 471.7 L894.9 471.1 L897.4 470.6 L900.0 470.2 L902.5 469.8 L905.0 469.5 L907.6 469.2 L910.1 469.0 L912.7 468.8 L915.2 468.7 L917.8 468.6" stroke="#005a00" stroke-width="8" marker-start="url(#sqg)" marker-mid="url(#sqg)" marker-end="url(#sqg)"/>
<path d="M958.2 470.1 L960.8 470.3 L963.3 470.5 L965.9 470.6 L968.4 470.8 L971.0 471.0 L973.5 471.1 L976.0 471.3 L978.6 471.4 L981.1 471.6 L983.7 471.8 L986.2 471.9 L988.8 472.1" stroke="#005a00" stroke-width="8" marker-start="url(#sqg)" marker-mid="url(#sqg)" marker-end="url(#sqg)"/>
<path d="M1026.2 474.3 L1028.9 474.5 L1031.6 474.6 L1034.3 474.8 L1037.0 474.9 L1039.7 475.1 L1042.3 475.2 L1045.0 475.4 L1047.7 475.5 L1050.4 475.6 L1053.1 475.8 L1055.8 475.9" stroke="#005a00" stroke-width="8" marker-start="url(#sqg)" marker-mid="url(#sqg)" marker-end="url(#sqg)"/>
<path d="M1097.2 477.8 L1099.8 477.9 L1102.4 478.0 L1105.0 478.1 L1107.6 478.2 L1110.2 478.3 L1112.8 478.4 L1115.4 478.5 L1118.0 478.6 L1120.6 478.7 L1123.2 478.7 L1125.8 478.8" stroke="#005a00" stroke-width="8" marker-start="url(#sqg)" marker-mid="url(#sqg)" marker-end="url(#sqg)"/>
<path d="M1162.2 479.7 L1164.8 479.8 L1167.4 479.8 L1170.0 479.9 L1172.5 479.9 L1175.1 479.9 L1177.7 480.0 L1180.3 480.0 L1182.9 480.0 L1185.5 480.1 L1188.0 480.1 L1190.6 480.1 L1193.2 480.2 L1195.8 480.2" stroke="#005a00" stroke-width="8" marker-start="url(#sqg)" marker-mid="url(#sqg)" marker-end="url(#sqg)"/>
<path d="M1233.2 480.3 L1235.9 480.3 L1238.5 480.3 L1241.2 480.3 L1243.8 480.2 L1246.5 480.2 L1249.2 480.2 L1251.8 480.2 L1254.5 480.2 L1257.2 480.1 L1259.8 480.1 L1262.5 480.1 L1265.1 480.1 L1267.8 480.0" stroke="#005a00" stroke-width="8" marker-start="url(#sqg)" marker-mid="url(#sqg)" marker-end="url(#sqg)"/>
<path d="M1302.2 479.4 L1304.8 479.4 L1307.5 479.3 L1310.1 479.3 L1312.7 479.2 L1315.4 479.1 L1318.0 479.1 L1320.6 479.0 L1323.3 478.9 L1325.9 478.8 L1328.5 478.8 L1331.2 478.7 L1333.8 478.6" stroke="#005a00" stroke-width="8" marker-start="url(#sqg)" marker-mid="url(#sqg)" marker-end="url(#sqg)"/>
<path d="M1372.2 477.3 L1374.7 477.2 L1377.3 477.1 L1379.8 477.0 L1382.4 476.8 L1384.9 476.7 L1387.5 476.6 L1390.0 476.5 L1392.5 476.4 L1395.1 476.3 L1397.6 476.2 L1400.2 476.1 L1402.7 475.9 L1405.3 475.8 L1407.8 475.7" stroke="#005a00" stroke-width="8" marker-start="url(#sqg)" marker-mid="url(#sqg)" marker-end="url(#sqg)"/>
<path d="M1441.2 473.9 L1443.9 473.8 L1446.6 473.6 L1449.3 473.5 L1452.0 473.3 L1454.7 473.2 L1457.3 473.0 L1460.0 472.8 L1462.7 472.7 L1465.4 472.5 L1468.1 472.3 L1470.8 472.2" stroke="#005a00" stroke-width="8" marker-start="url(#sqg)" marker-mid="url(#sqg)" marker-end="url(#sqg)"/>
<path d="M1506.2 469.8 L1508.8 469.6 L1511.3 469.5 L1513.8 469.3 L1516.4 469.1 L1519.0 468.9 L1521.5 468.7 L1524.0 468.5 L1526.6 468.3 L1529.2 468.2 L1531.7 468.0 L1534.2 467.8 L1536.8 467.6" stroke="#005a00" stroke-width="7" marker-start="url(#sqg2)" marker-mid="url(#sqg2)" marker-end="url(#sqg2)"/>
<path d="M1570.2 464.9 L1572.8 464.7 L1575.5 464.5 L1578.1 464.3 L1580.7 464.0 L1583.4 463.8 L1586.0 463.6 L1588.6 463.4 L1591.3 463.1 L1593.9 462.9 L1596.5 462.7 L1599.2 462.4 L1601.8 462.2" stroke="#005a00" stroke-width="7" marker-start="url(#sqg2)" marker-mid="url(#sqg2)" marker-end="url(#sqg2)"/>
<path d="M1636.2 459.1 L1638.8 458.8 L1641.4 458.6 L1644.0 458.4 L1646.5 458.1 L1649.1 457.9 L1651.7 457.6 L1654.3 457.4 L1656.9 457.1 L1659.5 456.9 L1662.0 456.6 L1664.6 456.4 L1667.2 456.2 L1669.8 455.9" stroke="#005a00" stroke-width="7" marker-start="url(#sqg2)" marker-mid="url(#sqg2)" marker-end="url(#sqg2)"/>
<path d="M1703.2 452.7 L1705.8 452.4 L1708.4 452.2 L1711.0 451.9 L1713.6 451.7 L1716.2 451.4 L1718.8 451.2 L1721.4 450.9 L1724.0 450.7 L1726.6 450.4 L1729.2 450.2 L1731.8 449.9" stroke="#005a00" stroke-width="7" marker-start="url(#sqg2)" marker-mid="url(#sqg2)" marker-end="url(#sqg2)"/>
<path d="M1768.2 446.5 L1770.9 446.2 L1773.6 446.0 L1776.3 445.7 L1779.0 445.5 L1781.7 445.2 L1784.3 445.0 L1787.0 444.8 L1789.7 444.5 L1792.4 444.3 L1795.1 444.0 L1797.8 443.8" stroke="#005a00" stroke-width="7" marker-start="url(#sqg2)" marker-mid="url(#sqg2)" marker-end="url(#sqg2)"/>
<path d="M1830.2 441.0 L1832.9 440.7 L1835.6 440.5 L1838.3 440.3 L1841.0 440.1 L1843.7 439.8 L1846.3 439.6 L1849.0 439.4 L1851.7 439.2 L1854.4 439.0 L1857.1 438.8 L1859.8 438.6" stroke="#005a00" stroke-width="7" marker-start="url(#sqg2)" marker-mid="url(#sqg2)" marker-end="url(#sqg2)"/>
<path d="M1891.2 436.2 L1893.7 436.1 L1896.3 435.9 L1898.8 435.7 L1901.4 435.5 L1903.9 435.4 L1906.5 435.2 L1909.0 435.0 L1911.5 434.9 L1914.1 434.7 L1916.6 434.6 L1919.2 434.4 L1921.7 434.3 L1924.3 434.1 L1926.8 434.0" stroke="#005a00" stroke-width="7" marker-start="url(#sqg2)" marker-mid="url(#sqg2)" marker-end="url(#sqg2)"/>
<path d="M1962.2 432.1 L1964.8 432.0 L1967.3 431.9 L1969.8 431.8 L1972.4 431.7 L1975.0 431.6 L1977.5 431.5 L1980.0 431.4 L1982.6 431.3 L1985.2 431.2 L1987.7 431.1 L1990.2 431.0 L1992.8 430.9" stroke="#005a00" stroke-width="7" marker-start="url(#sqg2)" marker-mid="url(#sqg2)" marker-end="url(#sqg2)"/>
<path d="M2027.2 430.1 L2029.7 430.1 L2032.3 430.0 L2034.8 430.0 L2037.4 430.0 L2039.9 429.9 L2042.5 429.9 L2045.0 429.9 L2047.5 429.9 L2050.1 429.9 L2052.6 429.9 L2055.2 429.9 L2057.7 429.9 L2060.3 429.9 L2062.8 429.9" stroke="#005a00" stroke-width="7" marker-start="url(#sqg2)" marker-mid="url(#sqg2)" marker-end="url(#sqg2)"/>
<path d="M510.0 812.5 L514.0 811.6 L518.0 811.0 L522.0 810.7 L526.1 810.6 L530.1 810.7 L534.1 811.0 L538.1 811.5 L542.1 812.2 L546.1 813.0 L550.1 814.0 L554.1 815.2 L558.2 816.4 L562.2 817.7 L566.2 819.1 L570.2 820.6 L574.2 822.1 L578.2 823.7 L582.2 825.2 L586.2 826.8 L590.3 828.4 L594.3 829.9 L598.3 831.4 L602.3 832.9 L606.3 834.4 L610.3 835.8 L614.3 837.2 L618.4 838.5 L622.4 839.8 L626.4 841.1 L630.4 842.4 L634.4 843.6 L638.4 844.8 L642.4 845.9 L646.4 847.0 L650.5 848.1 L654.5 849.1 L658.5 850.0 L662.5 850.9 L666.5 851.8 L670.5 852.6 L674.5 853.4 L678.6 854.1 L682.6 854.8 L686.6 855.4 L690.6 856.0 L694.6 856.5 L698.6 857.0 L702.6 857.5 L706.6 857.9 L710.7 858.3 L714.7 858.7 L718.7 859.0 L722.7 859.3 L726.7 859.7 L730.7 860.0 L734.7 860.2 L738.8 860.5 L742.8 860.8 L746.8 861.1 L750.8 861.4 L754.8 861.7 L758.8 862.0 L762.8 862.3 L766.8 862.6 L770.9 862.8 L774.9 863.0 L778.9 863.2 L782.9 863.3 L786.9 863.4 L790.9 863.3 L794.9 863.2 L798.9 863.0 L803.0 862.7 L807.0 862.4 L811.0 862.0 L815.0 861.5 L819.0 861.1 L823.0 860.6 L827.0 860.1 L831.1 859.5 L835.1 859.0 L839.1 858.4 L843.1 857.8 L847.1 857.2 L851.1 856.5 L855.1 855.7 L859.1 854.9 L863.2 854.0 L867.2 853.1 L871.2 852.1 L875.2 851.0 L879.2 849.9 L883.2 848.7 L887.2 847.5 L891.2 846.4 L895.3 845.2 L899.3 844.1 L903.3 843.0 L907.3 841.9 L911.3 840.8 L915.3 839.8 L919.3 838.8 L923.4 837.8 L927.4 836.8 L931.4 835.9 L935.4 835.0 L939.4 834.1 L943.4 833.3 L947.4 832.5 L951.4 831.7 L955.5 831.0 L959.5 830.3 L963.5 829.7 L967.5 829.1 L971.5 828.6 L975.5 828.1 L979.5 827.6 L983.6 827.2 L987.6 826.8 L991.6 826.5 L995.6 826.3 L999.6 826.1 L1003.6 825.9 L1007.6 825.9 L1011.6 825.8 L1015.7 825.9 L1019.7 825.9 L1023.7 826.0 L1027.7 826.2 L1031.7 826.4 L1035.7 826.6 L1039.7 826.8 L1043.8 827.1 L1047.8 827.4 L1051.8 827.7 L1055.8 827.9 L1059.8 828.2 L1063.8 828.5 L1067.8 828.8 L1071.8 829.1 L1075.9 829.3 L1079.9 829.6 L1083.9 829.8 L1087.9 830.0 L1091.9 830.1 L1095.9 830.2 L1099.9 830.3 L1103.9 830.3 L1108.0 830.3 L1112.0 830.2 L1116.0 830.1 L1120.0 830.0 L1124.0 829.9 L1128.0 829.7 L1132.0 829.5 L1136.1 829.2 L1140.1 829.0 L1144.1 828.7 L1148.1 828.4 L1152.1 828.1 L1156.1 827.8 L1160.1 827.5 L1164.1 827.2 L1168.2 826.9 L1172.2 826.5 L1176.2 826.2 L1180.2 825.9 L1184.2 825.6 L1188.2 825.3 L1192.2 825.0 L1196.2 824.8 L1200.3 824.5 L1204.3 824.3 L1208.3 824.1 L1212.3 823.9 L1216.3 823.7 L1220.3 823.6 L1224.3 823.5 L1228.4 823.4 L1232.4 823.3 L1236.4 823.3 L1240.4 823.2 L1244.4 823.2 L1248.4 823.2 L1252.4 823.2 L1256.4 823.3 L1260.5 823.3 L1264.5 823.3 L1268.5 823.4 L1272.5 823.4 L1276.5 823.5 L1280.5 823.6 L1284.5 823.6 L1288.6 823.7 L1292.6 823.8 L1296.6 823.8 L1300.6 823.9 L1304.6 823.9 L1308.6 824.0 L1312.6 824.0 L1316.6 824.1 L1320.7 824.1 L1324.7 824.1 L1328.7 824.1 L1332.7 824.1 L1336.7 824.1 L1340.7 824.0 L1344.7 824.0 L1348.8 823.9 L1352.8 823.8 L1356.8 823.7 L1360.8 823.6 L1364.8 823.4 L1368.8 823.2 L1372.8 823.0 L1376.8 822.8 L1380.9 822.5 L1384.9 822.2 L1388.9 821.9 L1392.9 821.6 L1396.9 821.2 L1400.9 820.8 L1404.9 820.4 L1408.9 819.9 L1413.0 819.4 L1417.0 818.9 L1421.0 818.3 L1425.0 817.7" stroke="#2a2aee" stroke-width="1.8" stroke-dasharray="46 4 3 4"/>
<path d="M1425.0 817.7 L1429.0 817.0 L1433.0 816.3 L1437.0 815.6 L1441.0 814.9 L1445.0 814.2 L1449.0 813.4 L1453.0 812.7 L1457.0 811.9 L1461.1 811.2 L1465.1 810.5 L1469.1 809.7 L1473.1 809.0 L1477.1 808.3 L1481.1 807.7 L1485.1 807.0 L1489.1 806.4 L1493.1 805.8 L1497.1 805.1 L1501.1 804.5 L1505.1 803.8 L1509.1 803.2 L1513.1 802.5 L1517.1 801.8 L1521.1 801.2 L1525.2 800.5 L1529.2 799.8 L1533.2 799.1 L1537.2 798.4 L1541.2 797.7 L1545.2 797.0 L1549.2 796.3 L1553.2 795.6 L1557.2 794.9 L1561.2 794.3 L1565.2 793.6 L1569.2 792.9 L1573.2 792.3 L1577.2 791.7 L1581.2 791.0 L1585.2 790.4 L1589.2 789.8 L1593.3 789.3 L1597.3 788.7 L1601.3 788.2 L1605.3 787.7 L1609.3 787.2 L1613.3 786.8 L1617.3 786.3 L1621.3 785.9 L1625.3 785.5 L1629.3 785.1 L1633.3 784.7 L1637.3 784.3 L1641.3 784.0 L1645.3 783.6 L1649.3 783.3 L1653.3 782.9 L1657.4 782.6 L1661.4 782.2 L1665.4 781.9 L1669.4 781.5 L1673.4 781.2 L1677.4 780.8 L1681.4 780.5 L1685.4 780.1 L1689.4 779.7 L1693.4 779.3 L1697.4 778.9 L1701.4 778.5 L1705.4 778.1 L1709.4 777.7 L1713.4 777.2 L1717.4 776.8 L1721.5 776.3 L1725.5 775.8 L1729.5 775.3 L1733.5 774.8 L1737.5 774.3 L1741.5 773.8 L1745.5 773.3 L1749.5 772.8 L1753.5 772.3 L1757.5 771.8 L1761.5 771.2 L1765.5 770.7 L1769.5 770.2 L1773.5 769.6 L1777.5 769.1 L1781.5 768.5 L1785.5 768.0 L1789.6 767.4 L1793.6 766.9 L1797.6 766.3 L1801.6 765.8 L1805.6 765.2 L1809.6 764.7 L1813.6 764.1 L1817.6 763.6 L1821.6 763.1 L1825.6 762.5 L1829.6 762.0 L1833.6 761.6 L1837.6 761.1 L1841.6 760.6 L1845.6 760.2 L1849.6 759.8 L1853.7 759.4 L1857.7 759.1 L1861.7 758.7 L1865.7 758.4 L1869.7 758.2 L1873.7 757.9 L1877.7 757.7 L1881.7 757.5 L1885.7 757.4 L1889.7 757.3 L1893.7 757.3 L1897.7 757.2 L1901.7 757.2 L1905.7 757.2 L1909.7 757.2 L1913.7 757.3 L1917.8 757.3 L1921.8 757.4 L1925.8 757.5 L1929.8 757.6 L1933.8 757.7 L1937.8 757.7 L1941.8 757.8 L1945.8 757.9 L1949.8 758.0 L1953.8 758.0 L1957.8 758.0 L1961.8 758.1 L1965.8 758.1 L1969.8 758.0 L1973.8 758.0 L1977.8 757.9 L1981.8 757.8 L1985.9 757.7 L1989.9 757.5 L1993.9 757.2 L1997.9 757.0 L2001.9 756.7 L2005.9 756.3 L2009.9 756.0 L2013.9 755.6 L2017.9 755.2 L2021.9 754.8 L2025.9 754.4 L2029.9 754.1 L2033.9 753.7 L2037.9 753.4 L2041.9 753.1 L2045.9 752.8 L2050.0 752.6 L2054.0 752.4 L2058.0 752.3 L2062.0 752.2 L2066.0 752.3 L2070.0 752.4 L2074.0 752.5 L2078.0 752.8 L2082.0 753.2" stroke="#2a2aee" stroke-width="2.4" stroke-dasharray="2.6 9.4"/>
<path d="M546.7 813.2 L549.3 813.8 L551.9 814.5 L554.5 815.3 L557.2 816.1 L559.8 816.9 L562.4 817.8 L565.0 818.7 L567.6 819.6 L570.2 820.6 L572.8 821.6 L575.5 822.6 L578.1 823.6 L580.7 824.6 L583.3 825.7" stroke="#0000dc" stroke-width="8" marker-start="url(#sqb)" marker-mid="url(#sqb)" marker-end="url(#sqb)"/>
<path d="M617.7 838.3 L620.3 839.2 L622.9 840.0 L625.5 840.8 L628.0 841.7 L630.6 842.5 L633.2 843.2 L635.8 844.0 L638.4 844.8 L641.0 845.5 L643.5 846.2 L646.1 846.9 L648.7 847.6 L651.3 848.3" stroke="#0000dc" stroke-width="8" marker-start="url(#sqb)" marker-mid="url(#sqb)" marker-end="url(#sqb)"/>
<path d="M686.7 855.5 L689.3 855.8 L691.9 856.2 L694.5 856.5 L697.0 856.8 L699.6 857.2 L702.2 857.4 L704.8 857.7 L707.4 858.0 L710.0 858.2 L712.5 858.5 L715.1 858.7 L717.7 858.9 L720.3 859.1" stroke="#0000dc" stroke-width="8" marker-start="url(#sqb)" marker-mid="url(#sqb)" marker-end="url(#sqb)"/>
<path d="M757.7 861.9 L760.2 862.1 L762.8 862.3 L765.4 862.5 L767.9 862.6 L770.5 862.8 L773.0 862.9 L775.5 863.1 L778.1 863.2 L780.6 863.3 L783.2 863.3 L785.8 863.4 L788.3 863.4" stroke="#0000dc" stroke-width="8" marker-start="url(#sqb)" marker-mid="url(#sqb)" marker-end="url(#sqb)"/>
<path d="M826.7 860.1 L829.4 859.8 L832.0 859.4 L834.7 859.1 L837.3 858.7 L840.0 858.3 L842.7 857.9 L845.3 857.5 L848.0 857.0 L850.7 856.6 L853.3 856.1 L856.0 855.6 L858.6 855.0 L861.3 854.5" stroke="#0000dc" stroke-width="8" marker-start="url(#sqb)" marker-mid="url(#sqb)" marker-end="url(#sqb)"/>
<path d="M895.7 845.1 L898.2 844.4 L900.8 843.7 L903.4 843.0 L905.9 842.3 L908.5 841.6 L911.0 840.9 L913.5 840.2 L916.1 839.6 L918.6 838.9 L921.2 838.3 L923.8 837.7 L926.3 837.1" stroke="#0000dc" stroke-width="8" marker-start="url(#sqb)" marker-mid="url(#sqb)" marker-end="url(#sqb)"/>
<path d="M965.7 829.4 L968.3 829.0 L970.9 828.6 L973.5 828.3 L976.0 828.0 L978.6 827.7 L981.2 827.4 L983.8 827.2 L986.4 826.9 L989.0 826.7 L991.5 826.5 L994.1 826.4 L996.7 826.2 L999.3 826.1" stroke="#0000dc" stroke-width="8" marker-start="url(#sqb)" marker-mid="url(#sqb)" marker-end="url(#sqb)"/>
<path d="M1033.2 826.5 L1035.7 826.6 L1038.2 826.7 L1040.7 826.9 L1043.2 827.1 L1045.7 827.2 L1048.2 827.4 L1050.8 827.6 L1053.3 827.8 L1055.8 827.9 L1058.3 828.1 L1060.8 828.3 L1063.3 828.5 L1065.8 828.7 L1068.3 828.8" stroke="#0000dc" stroke-width="8" marker-start="url(#sqb)" marker-mid="url(#sqb)" marker-end="url(#sqb)"/>
<path d="M1103.2 830.3 L1105.8 830.3 L1108.4 830.3 L1111.0 830.2 L1113.5 830.2 L1116.1 830.1 L1118.7 830.1 L1121.3 830.0 L1123.9 829.9 L1126.5 829.7 L1129.0 829.6 L1131.6 829.5 L1134.2 829.3 L1136.8 829.2" stroke="#0000dc" stroke-width="8" marker-start="url(#sqb)" marker-mid="url(#sqb)" marker-end="url(#sqb)"/>
<path d="M1174.7 826.3 L1177.4 826.1 L1180.1 825.9 L1182.8 825.7 L1185.5 825.5 L1188.2 825.3 L1190.8 825.1 L1193.5 824.9 L1196.2 824.8 L1198.9 824.6 L1201.6 824.4 L1204.3 824.3" stroke="#0000dc" stroke-width="8" marker-start="url(#sqb)" marker-mid="url(#sqb)" marker-end="url(#sqb)"/>
<path d="M1244.7 823.2 L1247.2 823.2 L1249.8 823.2 L1252.3 823.2 L1254.9 823.2 L1257.5 823.3 L1260.0 823.3 L1262.5 823.3 L1265.1 823.3 L1267.7 823.4 L1270.2 823.4 L1272.8 823.4 L1275.3 823.5" stroke="#0000dc" stroke-width="8" marker-start="url(#sqb)" marker-mid="url(#sqb)" marker-end="url(#sqb)"/>
<path d="M1310.7 824.0 L1313.3 824.0 L1315.9 824.1 L1318.5 824.1 L1321.0 824.1 L1323.6 824.1 L1326.2 824.1 L1328.8 824.1 L1331.4 824.1 L1334.0 824.1 L1336.5 824.1 L1339.1 824.0 L1341.7 824.0 L1344.3 824.0" stroke="#0000dc" stroke-width="8" marker-start="url(#sqb)" marker-mid="url(#sqb)" marker-end="url(#sqb)"/>
<path d="M1380.7 822.5 L1383.2 822.4 L1385.7 822.2 L1388.2 822.0 L1390.7 821.8 L1393.2 821.6 L1395.7 821.3 L1398.3 821.1 L1400.8 820.8 L1403.3 820.6 L1405.8 820.3 L1408.3 820.0 L1410.8 819.7 L1413.3 819.4" stroke="#0000dc" stroke-width="8" marker-start="url(#sqb)" marker-mid="url(#sqb)" marker-end="url(#sqb)"/>
<path d="M1445.7 814.1 L1448.3 813.6 L1450.9 813.1 L1453.5 812.6 L1456.1 812.1 L1458.8 811.6 L1461.4 811.1 L1464.0 810.7 L1466.6 810.2 L1469.2 809.7 L1471.8 809.2" stroke="#0000dc" stroke-width="8" marker-start="url(#sqb)" marker-mid="url(#sqb)" marker-end="url(#sqb)"/>
<path d="M1506.7 803.6 L1509.3 803.2 L1511.9 802.7 L1514.5 802.3 L1517.1 801.9 L1519.7 801.4 L1522.2 801.0 L1524.8 800.5 L1527.4 800.1 L1530.0 799.6 L1532.6 799.2 L1535.2 798.7 L1537.8 798.3" stroke="#0000dc" stroke-width="8" marker-start="url(#sqb)" marker-mid="url(#sqb)" marker-end="url(#sqb)"/>
<path d="M1566.7 793.3 L1569.4 792.9 L1572.1 792.5 L1574.8 792.0 L1577.5 791.6 L1580.2 791.2 L1582.8 790.8 L1585.5 790.4 L1588.2 790.0 L1590.9 789.6 L1593.6 789.2 L1596.3 788.9" stroke="#0000dc" stroke-width="8" marker-start="url(#sqb)" marker-mid="url(#sqb)" marker-end="url(#sqb)"/>
<path d="M1629.7 785.1 L1632.4 784.8 L1635.0 784.5 L1637.7 784.3 L1640.3 784.1 L1643.0 783.8 L1645.7 783.6 L1648.3 783.3 L1651.0 783.1 L1653.7 782.9 L1656.3 782.7 L1659.0 782.4 L1661.6 782.2 L1664.3 782.0" stroke="#0000dc" stroke-width="8" marker-start="url(#sqb)" marker-mid="url(#sqb)" marker-end="url(#sqb)"/>
<path d="M1696.7 779.0 L1699.4 778.7 L1702.1 778.4 L1704.8 778.2 L1707.5 777.9 L1710.2 777.6 L1712.8 777.3 L1715.5 777.0 L1718.2 776.7 L1720.9 776.3 L1723.6 776.0 L1726.3 775.7" stroke="#0000dc" stroke-width="8" marker-start="url(#sqb)" marker-mid="url(#sqb)" marker-end="url(#sqb)"/>
<path d="M1761.7 771.2 L1764.4 770.8 L1767.1 770.5 L1769.8 770.1 L1772.5 769.8 L1775.2 769.4 L1777.8 769.0 L1780.5 768.7 L1783.2 768.3 L1785.9 767.9 L1788.6 767.5 L1791.3 767.2" stroke="#0000dc" stroke-width="8" marker-start="url(#sqb)" marker-mid="url(#sqb)" marker-end="url(#sqb)"/>
<path d="M1823.7 762.8 L1826.4 762.5 L1829.1 762.1 L1831.8 761.8 L1834.5 761.5 L1837.2 761.1 L1839.8 760.8 L1842.5 760.5 L1845.2 760.3 L1847.9 760.0 L1850.6 759.7 L1853.3 759.5" stroke="#0000dc" stroke-width="8" marker-start="url(#sqb)" marker-mid="url(#sqb)" marker-end="url(#sqb)"/>
<path d="M1885.7 757.4 L1888.2 757.3 L1890.7 757.3 L1893.2 757.3 L1895.7 757.2 L1898.2 757.2 L1900.7 757.2 L1903.2 757.2 L1905.8 757.2 L1908.3 757.2 L1910.8 757.2 L1913.3 757.3 L1915.8 757.3 L1918.3 757.3 L1920.8 757.4 L1923.3 757.4" stroke="#0000dc" stroke-width="8" marker-start="url(#sqb)" marker-mid="url(#sqb)" marker-end="url(#sqb)"/>
<path d="M1956.7 758.0 L1959.3 758.1 L1962.0 758.1 L1964.6 758.1 L1967.2 758.1 L1969.9 758.0 L1972.5 758.0 L1975.1 758.0 L1977.8 757.9 L1980.4 757.8 L1983.0 757.8 L1985.7 757.7 L1988.3 757.5" stroke="#0000dc" stroke-width="8" marker-start="url(#sqb)" marker-mid="url(#sqb)" marker-end="url(#sqb)"/>
<path d="M2021.7 754.9 L2024.3 754.6 L2026.9 754.4 L2029.5 754.1 L2032.0 753.9 L2034.6 753.7 L2037.2 753.4 L2039.8 753.2 L2042.4 753.0 L2045.0 752.9 L2047.5 752.7 L2050.1 752.6 L2052.7 752.5 L2055.3 752.4" stroke="#0000dc" stroke-width="8" marker-start="url(#sqb)" marker-mid="url(#sqb)" marker-end="url(#sqb)"/>
</g>
<g fill="#000">
<rect x="218" y="27" width="4.2" height="1115.6"/>
<rect x="218" y="1138.3" width="1878.5" height="4.3"/>
<rect x="218" y="1082.7" width="49.5" height="4.4"/>
<rect x="218" y="1025.9" width="49.5" height="7.0"/>
<rect x="218" y="971.7" width="49.5" height="4.4"/>
<rect x="218" y="915.9" width="49.5" height="5.0"/>
<rect x="218" y="860.7" width="49.5" height="4.4"/>
<rect x="218" y="803.8" width="49.5" height="7.0"/>
<rect x="218" y="749.6" width="49.5" height="4.4"/>
<rect x="218" y="693.8" width="49.5" height="5.0"/>
<rect x="218" y="638.6" width="49.5" height="4.4"/>
<rect x="218" y="581.6" width="49.5" height="7.5"/>
<rect x="218" y="527.6" width="49.5" height="4.4"/>
<rect x="218" y="470.9" width="49.5" height="6.8"/>
<rect x="218" y="416.6" width="49.5" height="4.4"/>
<rect x="218" y="359.9" width="49.5" height="6.8"/>
<rect x="218" y="305.6" width="49.5" height="4.4"/>
<rect x="218" y="248.7" width="49.5" height="7.0"/>
<rect x="218" y="194.5" width="49.5" height="4.4"/>
<rect x="218" y="138.7" width="49.5" height="5.0"/>
<rect x="218" y="83.5" width="49.5" height="4.4"/>
<rect x="218" y="26.7" width="49.5" height="7.0"/>
<rect x="275.8" y="1121" width="5.5" height="19"/>
<rect x="334.3" y="1121" width="5.5" height="19"/>
<rect x="392.1" y="1121" width="7.0" height="19"/>
<rect x="451.1" y="1095" width="6" height="45"/>
<rect x="509.9" y="1121" width="5.5" height="19"/>
<rect x="567.7" y="1121" width="7.0" height="19"/>
<rect x="627.0" y="1121" width="5.5" height="19"/>
<rect x="685.2" y="1095" width="6" height="45"/>
<rect x="743.3" y="1121" width="7.0" height="19"/>
<rect x="802.6" y="1121" width="5.5" height="19"/>
<rect x="861.1" y="1121" width="5.5" height="19"/>
<rect x="919.4" y="1095" width="6" height="45"/>
<rect x="978.1" y="1121" width="5.5" height="19"/>
<rect x="1036.7" y="1121" width="5.5" height="19"/>
<rect x="1094.5" y="1121" width="7.0" height="19"/>
<rect x="1153.5" y="1095" width="6" height="45"/>
<rect x="1212.3" y="1121" width="5.5" height="19"/>
<rect x="1270.0" y="1121" width="7.0" height="19"/>
<rect x="1329.3" y="1121" width="5.5" height="19"/>
<rect x="1387.6" y="1095" width="6" height="45"/>
<rect x="1445.6" y="1121" width="7.0" height="19"/>
<rect x="1504.9" y="1121" width="5.5" height="19"/>
<rect x="1563.4" y="1121" width="5.5" height="19"/>
<rect x="1621.7" y="1095" width="6" height="45"/>
<rect x="1680.5" y="1121" width="5.5" height="19"/>
<rect x="1739.0" y="1121" width="5.5" height="19"/>
<rect x="1796.8" y="1121" width="7.0" height="19"/>
<rect x="1855.8" y="1095" width="6" height="45"/>
<rect x="1914.6" y="1121" width="5.5" height="19"/>
<rect x="1972.4" y="1121" width="7.0" height="19"/>
<rect x="2031.7" y="1121" width="5.5" height="19"/>
<rect x="2090.0" y="1095" width="6" height="45"/>
</g>
<text x="108.4" y="1169.9" font-size="62" letter-spacing="1.0">0.0</text>
<text x="108.4" y="1058.8" font-size="62" letter-spacing="1.0">0.1</text>
<text x="108.4" y="947.8" font-size="62" letter-spacing="1.0">0.2</text>
<text x="108.4" y="836.8" font-size="62" letter-spacing="1.0">0.3</text>
<text x="108.4" y="725.8" font-size="62" letter-spacing="1.0">0.4</text>
<text x="108.4" y="614.8" font-size="62" letter-spacing="1.0">0.5</text>
<text x="108.4" y="503.7" font-size="62" letter-spacing="1.0">0.6</text>
<text x="108.4" y="392.7" font-size="62" letter-spacing="1.0">0.7</text>
<text x="108.4" y="281.7" font-size="62" letter-spacing="1.0">0.8</text>
<text x="108.4" y="170.7" font-size="62" letter-spacing="1.0">0.9</text>
<text x="108.4" y="59.7" font-size="62" letter-spacing="1.0">1.0</text>
<text class="sans" x="218.7" y="1222.3" font-size="63" letter-spacing="-2.7" text-anchor="middle">0</text>
<text class="sans" x="452.8" y="1222.3" font-size="63" letter-spacing="-2.7" text-anchor="middle">200</text>
<text class="sans" x="686.9" y="1222.3" font-size="63" letter-spacing="-2.7" text-anchor="middle">400</text>
<text class="sans" x="921.0" y="1222.3" font-size="63" letter-spacing="-2.7" text-anchor="middle">600</text>
<text class="sans" x="1155.1" y="1222.3" font-size="63" letter-spacing="-2.7" text-anchor="middle">800</text>
<text class="sans" x="1389.3" y="1222.3" font-size="63" letter-spacing="-2.7" text-anchor="middle">1000</text>
<text class="sans" x="1623.4" y="1222.3" font-size="63" letter-spacing="-2.7" text-anchor="middle">1200</text>
<text class="sans" x="1857.5" y="1222.3" font-size="63" letter-spacing="-2.7" text-anchor="middle">1400</text>
<text class="sans" x="2091.6" y="1222.3" font-size="63" letter-spacing="-2.7" text-anchor="middle">1600</text>
<text x="1177.6" y="1289.5" font-size="60.6" text-anchor="middle">Frequency, Hz</text>
<text transform="translate(66 598.7) rotate(-90)" font-size="60.75" text-anchor="middle">Absorption Coefficient (α)</text>
<text class="reg" x="338.4" y="372" font-size="60.9">Sp Thickness</text>
<text class="reg" x="340.8" y="445.3" font-size="60.7">t = 50 mm</text>
<text x="329.6" y="1043.5" font-size="60.8">L – Large, M- Medium , S – Small</text>
<text x="1543" y="122.5" font-size="60" style="fill:#ff0000">L<tspan font-size="41" dy="12.5">50</tspan><tspan dy="-12.5">, M</tspan><tspan font-size="41" dy="12.5">25</tspan><tspan dy="-12.5">, S</tspan><tspan font-size="41" dy="12.5">25</tspan></text>
<text x="1305" y="203.5" font-size="60.3" style="fill:#ff0000">Graded Material: Experiment</text>
<text x="1786" y="322.5" font-size="60">Prediction</text>
<text x="1680" y="503.8" font-size="60.9" style="fill:#008000">Large size</text>
<text x="1680" y="577.2" font-size="60.9" style="fill:#008000">d<tspan font-size="40" dy="12">m</tspan><tspan dy="-12"> = 625μm</tspan></text>
<text x="1620.2" y="834.5" font-size="61" style="fill:#0000ff">Medium size</text>
<text x="1620.2" y="906" font-size="61" style="fill:#0000ff">d<tspan font-size="40" dy="12">m</tspan><tspan dy="-12"> = 223μm</tspan></text>
<g filter="url(#soft)">
<path d="M316 120.5 H338 V173.5 H316 Q308 173.5 308 165.5 V128.5 Q308 120.5 316 120.5 Z" fill="url(#spk)"/>
<path d="M342.5 119.5 L379 84.5 Q382.5 82 382.5 87 V205.5 Q382.5 210.5 379 208 L342.5 174.5 Z" fill="url(#spk)"/>
<path d="M399.5 92.8 H434" stroke="#222" stroke-width="1.6" fill="none"/>
<path d="M431.5 89.2 L441 92.8 L431.5 96.4 Z" fill="#111"/>
<path d="M399.5 106.2 H434" stroke="#222" stroke-width="1.6" fill="none"/>
<path d="M431.5 102.6 L441 106.2 L431.5 109.8 Z" fill="#111"/>
<path d="M399.5 119.1 H434" stroke="#222" stroke-width="1.6" fill="none"/>
<path d="M431.5 115.5 L441 119.1 L431.5 122.7 Z" fill="#111"/>
<path d="M399.5 132.0 H434" stroke="#222" stroke-width="1.6" fill="none"/>
<path d="M431.5 128.4 L441 132.0 L431.5 135.6 Z" fill="#111"/>
<path d="M399.5 145.0 H434" stroke="#222" stroke-width="1.6" fill="none"/>
<path d="M431.5 141.4 L441 145.0 L431.5 148.6 Z" fill="#111"/>
<path d="M399.5 161.2 H434" stroke="#222" stroke-width="1.6" fill="none"/>
<path d="M431.5 157.6 L441 161.2 L431.5 164.8 Z" fill="#111"/>
<path d="M399.5 174.1 H434" stroke="#222" stroke-width="1.6" fill="none"/>
<path d="M431.5 170.5 L441 174.1 L431.5 177.7 Z" fill="#111"/>
<path d="M399.5 187.1 H434" stroke="#222" stroke-width="1.6" fill="none"/>
<path d="M431.5 183.5 L441 187.1 L431.5 190.7 Z" fill="#111"/>
<path d="M399.5 200.0 H434" stroke="#222" stroke-width="1.6" fill="none"/>
<path d="M431.5 196.4 L441 200.0 L431.5 203.6 Z" fill="#111"/>
<rect x="478" y="84" width="176" height="128" fill="#eef1f7"/>
<rect x="478" y="84" width="88" height="128" fill="url(#dotsL)" opacity="0.8"/>
<rect x="563" y="84" width="48" height="128" fill="#e4e5ea"/>
<g filter="url(#soft3)"><rect x="563" y="86" width="48" height="124" fill="url(#dotsM)"/></g>
<rect x="610" y="84" width="44" height="128" fill="#cfd9e8"/>
<rect x="614" y="84" width="3" height="128" fill="#b7c3d6"/>
<rect x="621" y="84" width="3" height="128" fill="#dbe3ee"/>
<rect x="628" y="84" width="3" height="128" fill="#b3c0d4"/>
<rect x="636" y="84" width="3" height="128" fill="#dde4ef"/>
<rect x="644" y="84" width="3" height="128" fill="#b5c2d6"/>
<rect x="650" y="84" width="3" height="128" fill="#c3cede"/>
<path d="M441 83.7 H654 M441 212.1 H654" stroke="#8c8c8c" stroke-width="2.4" fill="none"/>
<path d="M477.5 83 V213" stroke="#9a9a9a" stroke-width="3" fill="none"/>
<rect x="654.5" y="82.5" width="33" height="130.5" fill="#bdbdbd" stroke="#858585" stroke-width="2.4"/>
<path d="M490.5 75.5 l5 5 M495.5 75.5 l-5 5" stroke="#2a2a2a" stroke-width="1.7" fill="none"/>
<path d="M507.3 75.5 l5 5 M512.3 75.5 l-5 5" stroke="#2a2a2a" stroke-width="1.7" fill="none"/>
<path d="M524.1 75.5 l5 5 M529.1 75.5 l-5 5" stroke="#2a2a2a" stroke-width="1.7" fill="none"/>
<path d="M540.9 75.5 l5 5 M545.9 75.5 l-5 5" stroke="#2a2a2a" stroke-width="1.7" fill="none"/>
<path d="M557.7 75.5 l5 5 M562.7 75.5 l-5 5" stroke="#2a2a2a" stroke-width="1.7" fill="none"/>
<path d="M574.5 75.5 l5 5 M579.5 75.5 l-5 5" stroke="#2a2a2a" stroke-width="1.7" fill="none"/>
<path d="M591.3 75.5 l5 5 M596.3 75.5 l-5 5" stroke="#2a2a2a" stroke-width="1.7" fill="none"/>
<path d="M608.1 75.5 l5 5 M613.1 75.5 l-5 5" stroke="#2a2a2a" stroke-width="1.7" fill="none"/>
<path d="M624.9 75.5 l5 5 M629.9 75.5 l-5 5" stroke="#2a2a2a" stroke-width="1.7" fill="none"/>
<path d="M641.7 75.5 l5 5 M646.7 75.5 l-5 5" stroke="#2a2a2a" stroke-width="1.7" fill="none"/>
<path d="M499.5 216.0 l5 5 M504.5 216.0 l-5 5" stroke="#2a2a2a" stroke-width="1.7" fill="none"/>
<path d="M516.3 216.0 l5 5 M521.3 216.0 l-5 5" stroke="#2a2a2a" stroke-width="1.7" fill="none"/>
<path d="M533.1 216.0 l5 5 M538.1 216.0 l-5 5" stroke="#2a2a2a" stroke-width="1.7" fill="none"/>
<path d="M549.9 216.0 l5 5 M554.9 216.0 l-5 5" stroke="#2a2a2a" stroke-width="1.7" fill="none"/>
<path d="M566.7 216.0 l5 5 M571.7 216.0 l-5 5" stroke="#2a2a2a" stroke-width="1.7" fill="none"/>
<path d="M583.5 216.0 l5 5 M588.5 216.0 l-5 5" stroke="#2a2a2a" stroke-width="1.7" fill="none"/>
<path d="M600.3 216.0 l5 5 M605.3 216.0 l-5 5" stroke="#2a2a2a" stroke-width="1.7" fill="none"/>
<path d="M617.1 216.0 l5 5 M622.1 216.0 l-5 5" stroke="#2a2a2a" stroke-width="1.7" fill="none"/>
<path d="M633.9 216.0 l5 5 M638.9 216.0 l-5 5" stroke="#2a2a2a" stroke-width="1.7" fill="none"/>
<path d="M650.7 216.0 l5 5 M655.7 216.0 l-5 5" stroke="#2a2a2a" stroke-width="1.7" fill="none"/>
<path d="M484 229.4 H650" stroke="#555" stroke-width="1.4" fill="none"/>
<path d="M479.5 229.4 l8 -3.4 v6.8 Z M655 229.4 l-8 -3.4 v6.8 Z" fill="#222"/>
</g>
<g filter="url(#soft2)" font-size="28">
<text x="562.8" y="68.7" font-size="28.3" text-anchor="middle">Graded Material</text>
<text x="361.3" y="241.8" font-size="28.2" text-anchor="middle">Sound Source</text>
<text x="575.8" y="253.5" text-anchor="middle">50 mm</text>
<text x="740.5" y="134.6" text-anchor="middle">Rigid</text>
<text x="741" y="168.2" text-anchor="middle">Backing</text>
<text x="526" y="152.7" text-anchor="middle">L</text>
<text x="587.6" y="152.7" text-anchor="middle">M</text>
<text x="632" y="152.7" text-anchor="middle">S</text>
</g>
<g filter="url(#soft)" fill="none">
<path d="M910.5 75.5 V291" stroke="#b0b0b0" stroke-width="2.6"/>
<path d="M909.5 289.8 H1199.8" stroke="#b0b0b0" stroke-width="2.8"/>
<path d="M910.5 121.9 H950 C 990 121.9 1000 160 1026.9 167.3 C 1040 171.5 1060 169 1072.3 171.8 C 1100 178 1110 206 1151.7 211.5 L1165.3 210.4 V289.8" stroke="#b0b0b0" stroke-width="2.4"/>
<path d="M1024.6 168 V289 M1099 185 V289" stroke="#bdbdbd" stroke-width="1.8" stroke-dasharray="1.6 1.6"/>
</g>
<g filter="url(#soft2)" font-size="28">
<text x="948" y="68.6" font-size="28.3" text-anchor="middle">Pore-size distribution</text>
<text x="871" y="253.5" text-anchor="middle">Front</text>
<text x="1202.7" y="253.5" text-anchor="middle">Back</text>
<text x="911.6" y="314.8" text-anchor="middle">0</text>
<text x="1164" y="312.5" font-size="34" text-anchor="middle">t</text>
<text x="1051.3" y="318" font-size="38" text-anchor="middle" letter-spacing="1.5">t<tspan font-size="24" dy="7">o</tspan><tspan dy="-7">/t</tspan></text>
</g>
</svg></body></html>
